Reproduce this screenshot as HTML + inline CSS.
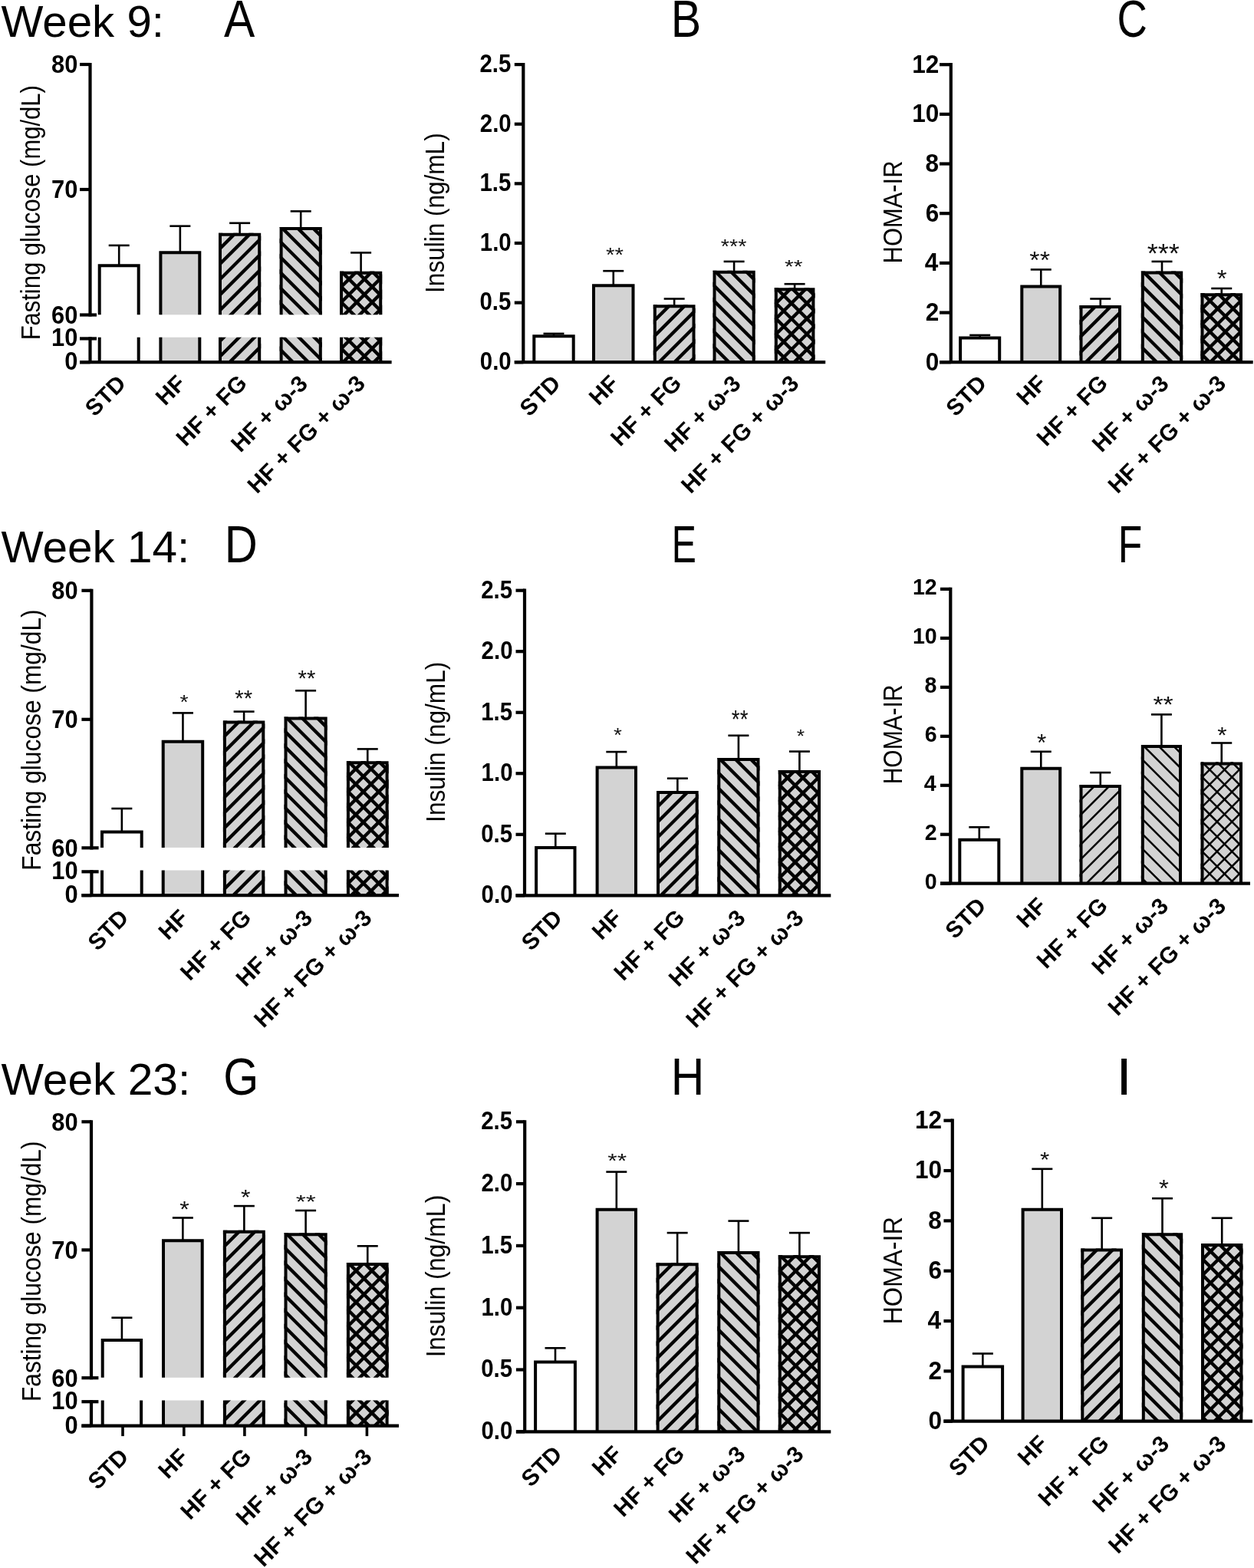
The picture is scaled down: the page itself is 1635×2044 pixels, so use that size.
<!DOCTYPE html>
<html><head><meta charset="utf-8"><title>Figure</title>
<style>html,body{margin:0;padding:0;background:#fff;}svg{display:block;}</style>
</head><body><svg width="1635" height="2044" viewBox="0 0 1635 2044" font-family='"Liberation Sans", Arial, sans-serif'><defs><clipPath id="c1"><rect x="285.00" y="303.70" width="55.20" height="106.60"/></clipPath><clipPath id="c2"><rect x="285.00" y="439.70" width="55.20" height="32.50"/></clipPath><clipPath id="c3"><rect x="364.60" y="296.00" width="55.20" height="114.30"/></clipPath><clipPath id="c4"><rect x="364.60" y="439.70" width="55.20" height="32.50"/></clipPath><clipPath id="c5"><rect x="443.00" y="353.80" width="55.20" height="56.50"/></clipPath><clipPath id="c6"><rect x="443.00" y="439.70" width="55.20" height="32.50"/></clipPath><clipPath id="c7"><rect x="851.80" y="397.30" width="54.70" height="74.90"/></clipPath><clipPath id="c8"><rect x="929.50" y="352.70" width="55.20" height="119.50"/></clipPath><clipPath id="c9"><rect x="1009.80" y="375.20" width="52.60" height="97.00"/></clipPath><clipPath id="c10"><rect x="1407.50" y="398.00" width="54.50" height="74.20"/></clipPath><clipPath id="c11"><rect x="1487.80" y="353.40" width="54.40" height="118.80"/></clipPath><clipPath id="c12"><rect x="1565.50" y="382.20" width="54.50" height="90.00"/></clipPath><clipPath id="c13"><rect x="290.90" y="939.60" width="54.40" height="165.30"/></clipPath><clipPath id="c14"><rect x="290.90" y="1134.50" width="54.40" height="32.70"/></clipPath><clipPath id="c15"><rect x="370.50" y="934.50" width="56.20" height="170.40"/></clipPath><clipPath id="c16"><rect x="370.50" y="1134.50" width="56.20" height="32.70"/></clipPath><clipPath id="c17"><rect x="451.90" y="992.30" width="54.70" height="112.60"/></clipPath><clipPath id="c18"><rect x="451.90" y="1134.50" width="54.70" height="32.70"/></clipPath><clipPath id="c19"><rect x="856.00" y="1031.00" width="54.70" height="136.30"/></clipPath><clipPath id="c20"><rect x="935.30" y="988.10" width="55.20" height="179.20"/></clipPath><clipPath id="c21"><rect x="1014.80" y="1003.90" width="55.20" height="163.40"/></clipPath><clipPath id="c22"><rect x="1407.50" y="1022.90" width="54.50" height="128.80"/></clipPath><clipPath id="c23"><rect x="1487.80" y="971.00" width="53.20" height="180.70"/></clipPath><clipPath id="c24"><rect x="1565.50" y="993.60" width="54.50" height="158.10"/></clipPath><clipPath id="c25"><rect x="290.90" y="1603.70" width="54.90" height="192.10"/></clipPath><clipPath id="c26"><rect x="290.90" y="1825.50" width="54.90" height="33.20"/></clipPath><clipPath id="c27"><rect x="370.50" y="1607.30" width="56.20" height="188.50"/></clipPath><clipPath id="c28"><rect x="370.50" y="1825.50" width="56.20" height="33.20"/></clipPath><clipPath id="c29"><rect x="451.90" y="1646.10" width="54.70" height="149.70"/></clipPath><clipPath id="c30"><rect x="451.90" y="1825.50" width="54.70" height="33.20"/></clipPath><clipPath id="c31"><rect x="855.60" y="1646.20" width="55.10" height="220.10"/></clipPath><clipPath id="c32"><rect x="935.30" y="1630.90" width="55.20" height="235.40"/></clipPath><clipPath id="c33"><rect x="1014.80" y="1636.20" width="55.20" height="230.10"/></clipPath><clipPath id="c34"><rect x="1409.30" y="1627.40" width="54.70" height="225.30"/></clipPath><clipPath id="c35"><rect x="1488.80" y="1607.30" width="53.40" height="245.40"/></clipPath><clipPath id="c36"><rect x="1566.00" y="1620.90" width="54.40" height="231.80"/></clipPath></defs><rect width="1635" height="2044" fill="#fff"/><line x1="155.20" y1="319.90" x2="155.20" y2="345.30" stroke="#000" stroke-width="2.6" stroke-linecap="butt"/><line x1="141.70" y1="319.90" x2="168.70" y2="319.90" stroke="#000" stroke-width="2.6" stroke-linecap="butt"/><line x1="234.85" y1="294.70" x2="234.85" y2="328.30" stroke="#000" stroke-width="2.6" stroke-linecap="butt"/><line x1="221.35" y1="294.70" x2="248.35" y2="294.70" stroke="#000" stroke-width="2.6" stroke-linecap="butt"/><line x1="312.60" y1="290.80" x2="312.60" y2="304.70" stroke="#000" stroke-width="2.6" stroke-linecap="butt"/><line x1="299.10" y1="290.80" x2="326.10" y2="290.80" stroke="#000" stroke-width="2.6" stroke-linecap="butt"/><line x1="392.20" y1="275.40" x2="392.20" y2="297.00" stroke="#000" stroke-width="2.6" stroke-linecap="butt"/><line x1="378.70" y1="275.40" x2="405.70" y2="275.40" stroke="#000" stroke-width="2.6" stroke-linecap="butt"/><line x1="470.60" y1="329.40" x2="470.60" y2="354.80" stroke="#000" stroke-width="2.6" stroke-linecap="butt"/><line x1="457.10" y1="329.40" x2="484.10" y2="329.40" stroke="#000" stroke-width="2.6" stroke-linecap="butt"/><rect x="129.70" y="346.30" width="51.00" height="64.00" fill="#fff"/><path d="M129.70,410.30V346.30H180.70V410.30" fill="none" stroke="#000" stroke-width="4.0" stroke-linejoin="miter"/><rect x="129.70" y="439.70" width="51.00" height="32.50" fill="#fff"/><line x1="129.70" y1="439.70" x2="129.70" y2="472.20" stroke="#000" stroke-width="4.0" stroke-linecap="butt"/><line x1="180.70" y1="439.70" x2="180.70" y2="472.20" stroke="#000" stroke-width="4.0" stroke-linecap="butt"/><rect x="209.40" y="329.30" width="50.90" height="81.00" fill="#d3d3d3"/><path d="M209.40,410.30V329.30H260.30V410.30" fill="none" stroke="#000" stroke-width="4.0" stroke-linejoin="miter"/><rect x="209.40" y="439.70" width="50.90" height="32.50" fill="#d3d3d3"/><line x1="209.40" y1="439.70" x2="209.40" y2="472.20" stroke="#000" stroke-width="4.0" stroke-linecap="butt"/><line x1="260.30" y1="439.70" x2="260.30" y2="472.20" stroke="#000" stroke-width="4.0" stroke-linecap="butt"/><rect x="287.00" y="305.70" width="51.20" height="104.60" fill="#d3d3d3"/><g clip-path="url(#c1)"><path d="M130.21,420.30L256.81,293.70M150.31,420.30L276.91,293.70M170.41,420.30L297.01,293.70M190.51,420.30L317.11,293.70M210.61,420.30L337.21,293.70M230.71,420.30L357.31,293.70M250.81,420.30L377.41,293.70M270.91,420.30L397.51,293.70M291.01,420.30L417.61,293.70M311.11,420.30L437.71,293.70M331.21,420.30L457.81,293.70M351.31,420.30L477.91,293.70" stroke="#000" stroke-width="4.4" fill="none"/></g><path d="M287.00,410.30V305.70H338.20V410.30" fill="none" stroke="#000" stroke-width="4.0" stroke-linejoin="miter"/><rect x="287.00" y="439.70" width="51.20" height="32.50" fill="#d3d3d3"/><g clip-path="url(#c2)"><path d="M209.01,482.20L261.51,429.70M229.11,482.20L281.61,429.70M249.21,482.20L301.71,429.70M269.31,482.20L321.81,429.70M289.41,482.20L341.91,429.70M309.51,482.20L362.01,429.70M329.61,482.20L382.11,429.70M349.71,482.20L402.21,429.70M369.81,482.20L422.31,429.70" stroke="#000" stroke-width="4.4" fill="none"/></g><line x1="287.00" y1="439.70" x2="287.00" y2="472.20" stroke="#000" stroke-width="4.0" stroke-linecap="butt"/><line x1="338.20" y1="439.70" x2="338.20" y2="472.20" stroke="#000" stroke-width="4.0" stroke-linecap="butt"/><rect x="366.60" y="298.00" width="51.20" height="112.30" fill="#d3d3d3"/><g clip-path="url(#c3)"><path d="M215.91,286.00L350.21,420.30M236.01,286.00L370.31,420.30M256.11,286.00L390.41,420.30M276.21,286.00L410.51,420.30M296.31,286.00L430.61,420.30M316.41,286.00L450.71,420.30M336.51,286.00L470.81,420.30M356.61,286.00L490.91,420.30M376.71,286.00L511.01,420.30M396.81,286.00L531.11,420.30M416.91,286.00L551.21,420.30M437.01,286.00L571.31,420.30" stroke="#000" stroke-width="4.4" fill="none"/></g><path d="M366.60,410.30V298.00H417.80V410.30" fill="none" stroke="#000" stroke-width="4.0" stroke-linejoin="miter"/><rect x="366.60" y="439.70" width="51.20" height="32.50" fill="#d3d3d3"/><g clip-path="url(#c4)"><path d="M299.31,429.70L351.81,482.20M319.41,429.70L371.91,482.20M339.51,429.70L392.01,482.20M359.61,429.70L412.11,482.20M379.71,429.70L432.21,482.20M399.81,429.70L452.31,482.20M419.91,429.70L472.41,482.20M440.01,429.70L492.51,482.20" stroke="#000" stroke-width="4.4" fill="none"/></g><line x1="366.60" y1="439.70" x2="366.60" y2="472.20" stroke="#000" stroke-width="4.0" stroke-linecap="butt"/><line x1="417.80" y1="439.70" x2="417.80" y2="472.20" stroke="#000" stroke-width="4.0" stroke-linecap="butt"/><rect x="445.00" y="355.80" width="51.20" height="54.50" fill="#d3d3d3"/><g clip-path="url(#c5)"><path d="M338.31,420.30L414.81,343.80M358.41,420.30L434.91,343.80M378.51,420.30L455.01,343.80M398.61,420.30L475.11,343.80M418.71,420.30L495.21,343.80M438.81,420.30L515.31,343.80M458.91,420.30L535.41,343.80M479.01,420.30L555.51,343.80M499.11,420.30L575.61,343.80M519.21,420.30L595.71,343.80" stroke="#000" stroke-width="4.4" fill="none"/><path d="M354.61,343.80L431.11,420.30M374.71,343.80L451.21,420.30M394.81,343.80L471.31,420.30M414.91,343.80L491.41,420.30M435.01,343.80L511.51,420.30M455.11,343.80L531.61,420.30M475.21,343.80L551.71,420.30M495.31,343.80L571.81,420.30M515.41,343.80L591.91,420.30" stroke="#000" stroke-width="4.4" fill="none"/></g><path d="M445.00,410.30V355.80H496.20V410.30" fill="none" stroke="#000" stroke-width="4.0" stroke-linejoin="miter"/><rect x="445.00" y="439.70" width="51.20" height="32.50" fill="#d3d3d3"/><g clip-path="url(#c6)"><path d="M376.91,482.20L429.41,429.70M397.01,482.20L449.51,429.70M417.11,482.20L469.61,429.70M437.21,482.20L489.71,429.70M457.31,482.20L509.81,429.70M477.41,482.20L529.91,429.70M497.51,482.20L550.01,429.70M517.61,482.20L570.11,429.70" stroke="#000" stroke-width="4.4" fill="none"/><path d="M380.21,429.70L432.71,482.20M400.31,429.70L452.81,482.20M420.41,429.70L472.91,482.20M440.51,429.70L493.01,482.20M460.61,429.70L513.11,482.20M480.71,429.70L533.21,482.20M500.81,429.70L553.31,482.20M520.91,429.70L573.41,482.20" stroke="#000" stroke-width="4.4" fill="none"/></g><line x1="445.00" y1="439.70" x2="445.00" y2="472.20" stroke="#000" stroke-width="4.0" stroke-linecap="butt"/><line x1="496.20" y1="439.70" x2="496.20" y2="472.20" stroke="#000" stroke-width="4.0" stroke-linecap="butt"/><line x1="117.50" y1="81.90" x2="117.50" y2="412.60" stroke="#000" stroke-width="4.2" stroke-linecap="butt"/><line x1="117.50" y1="439.30" x2="117.50" y2="472.20" stroke="#000" stroke-width="4.2" stroke-linecap="butt"/><line x1="104.00" y1="472.20" x2="510.60" y2="472.20" stroke="#000" stroke-width="4.2" stroke-linecap="butt"/><line x1="104.00" y1="84.00" x2="117.50" y2="84.00" stroke="#000" stroke-width="4.2" stroke-linecap="butt"/><line x1="104.00" y1="247.00" x2="117.50" y2="247.00" stroke="#000" stroke-width="4.2" stroke-linecap="butt"/><line x1="104.00" y1="410.50" x2="126.00" y2="410.50" stroke="#000" stroke-width="4.2" stroke-linecap="butt"/><line x1="104.00" y1="441.40" x2="126.00" y2="441.40" stroke="#000" stroke-width="4.2" stroke-linecap="butt"/><line x1="104.00" y1="472.20" x2="117.50" y2="472.20" stroke="#000" stroke-width="4.2" stroke-linecap="butt"/><text x="67.12" y="95.30" font-size="33.2" font-weight="bold" textLength="34.34" lengthAdjust="spacingAndGlyphs">80</text><text x="67.12" y="258.30" font-size="33.2" font-weight="bold" textLength="34.34" lengthAdjust="spacingAndGlyphs">70</text><text x="67.12" y="421.80" font-size="33.2" font-weight="bold" textLength="34.34" lengthAdjust="spacingAndGlyphs">60</text><text x="67.12" y="451.10" font-size="33.2" font-weight="bold" textLength="34.34" lengthAdjust="spacingAndGlyphs">10</text><text x="84.29" y="482.00" font-size="33.2" font-weight="bold" textLength="17.17" lengthAdjust="spacingAndGlyphs">0</text><g transform="translate(51.70,440.80) rotate(-90)"><text x="-2.54" y="0" font-size="34.3" font-weight="normal" textLength="332.06" lengthAdjust="spacingAndGlyphs">Fasting glucose (mg/dL)</text></g><g transform="translate(164.80,502.60) rotate(-45)"><text x="-58.74" y="0" font-size="30" font-weight="bold" textLength="60.00" lengthAdjust="spacingAndGlyphs">STD</text></g><g transform="translate(242.85,502.60) rotate(-45)"><text x="-38.89" y="0" font-size="30" font-weight="bold" textLength="39.99" lengthAdjust="spacingAndGlyphs">HF</text></g><g transform="translate(322.50,502.60) rotate(-45)"><text x="-113.98" y="0" font-size="30" font-weight="bold" textLength="115.84" lengthAdjust="spacingAndGlyphs">HF + FG</text></g><g transform="translate(402.00,502.60) rotate(-45)"><text x="-125.11" y="0" font-size="30" font-weight="bold" textLength="126.20" lengthAdjust="spacingAndGlyphs">HF + ω-3</text></g><g transform="translate(477.00,502.60) rotate(-45)"><text x="-200.96" y="0" font-size="30" font-weight="bold" textLength="202.05" lengthAdjust="spacingAndGlyphs">HF + FG + ω-3</text></g><line x1="722.00" y1="434.90" x2="722.00" y2="437.20" stroke="#000" stroke-width="2.6" stroke-linecap="butt"/><line x1="708.50" y1="434.90" x2="735.50" y2="434.90" stroke="#000" stroke-width="2.6" stroke-linecap="butt"/><line x1="799.75" y1="353.20" x2="799.75" y2="371.20" stroke="#000" stroke-width="2.6" stroke-linecap="butt"/><line x1="786.25" y1="353.20" x2="813.25" y2="353.20" stroke="#000" stroke-width="2.6" stroke-linecap="butt"/><line x1="879.15" y1="389.50" x2="879.15" y2="398.30" stroke="#000" stroke-width="2.6" stroke-linecap="butt"/><line x1="865.65" y1="389.50" x2="892.65" y2="389.50" stroke="#000" stroke-width="2.6" stroke-linecap="butt"/><line x1="957.10" y1="340.90" x2="957.10" y2="353.70" stroke="#000" stroke-width="2.6" stroke-linecap="butt"/><line x1="943.60" y1="340.90" x2="970.60" y2="340.90" stroke="#000" stroke-width="2.6" stroke-linecap="butt"/><line x1="1036.10" y1="370.20" x2="1036.10" y2="376.20" stroke="#000" stroke-width="2.6" stroke-linecap="butt"/><line x1="1022.60" y1="370.20" x2="1049.60" y2="370.20" stroke="#000" stroke-width="2.6" stroke-linecap="butt"/><rect x="696.30" y="438.20" width="51.40" height="34.00" fill="#fff"/><path d="M696.30,472.20V438.20H747.70V472.20" fill="none" stroke="#000" stroke-width="4.0" stroke-linejoin="miter"/><rect x="774.00" y="372.20" width="51.50" height="100.00" fill="#d3d3d3"/><path d="M774.00,472.20V372.20H825.50V472.20" fill="none" stroke="#000" stroke-width="4.0" stroke-linejoin="miter"/><rect x="853.80" y="399.30" width="50.70" height="72.90" fill="#d3d3d3"/><g clip-path="url(#c7)"><path d="M728.71,482.20L823.61,387.30M748.81,482.20L843.71,387.30M768.91,482.20L863.81,387.30M789.01,482.20L883.91,387.30M809.11,482.20L904.01,387.30M829.21,482.20L924.11,387.30M849.31,482.20L944.21,387.30M869.41,482.20L964.31,387.30M889.51,482.20L984.41,387.30M909.61,482.20L1004.51,387.30M929.71,482.20L1024.61,387.30" stroke="#000" stroke-width="4.4" fill="none"/></g><path d="M853.80,472.20V399.30H904.50V472.20" fill="none" stroke="#000" stroke-width="4.0" stroke-linejoin="miter"/><rect x="931.50" y="354.70" width="51.20" height="117.50" fill="#d3d3d3"/><g clip-path="url(#c8)"><path d="M760.71,342.70L900.21,482.20M780.81,342.70L920.31,482.20M800.91,342.70L940.41,482.20M821.01,342.70L960.51,482.20M841.11,342.70L980.61,482.20M861.21,342.70L1000.71,482.20M881.31,342.70L1020.81,482.20M901.41,342.70L1040.91,482.20M921.51,342.70L1061.01,482.20M941.61,342.70L1081.11,482.20M961.71,342.70L1101.21,482.20M981.81,342.70L1121.31,482.20M1001.91,342.70L1141.41,482.20" stroke="#000" stroke-width="4.4" fill="none"/></g><path d="M931.50,472.20V354.70H982.70V472.20" fill="none" stroke="#000" stroke-width="4.0" stroke-linejoin="miter"/><rect x="1011.80" y="377.20" width="48.60" height="95.00" fill="#d3d3d3"/><g clip-path="url(#c9)"><path d="M864.61,482.20L981.61,365.20M884.71,482.20L1001.71,365.20M904.81,482.20L1021.81,365.20M924.91,482.20L1041.91,365.20M945.01,482.20L1062.01,365.20M965.11,482.20L1082.11,365.20M985.21,482.20L1102.21,365.20M1005.31,482.20L1122.31,365.20M1025.41,482.20L1142.41,365.20M1045.51,482.20L1162.51,365.20M1065.61,482.20L1182.61,365.20M1085.71,482.20L1202.71,365.20" stroke="#000" stroke-width="4.4" fill="none"/><path d="M881.21,365.20L998.21,482.20M901.31,365.20L1018.31,482.20M921.41,365.20L1038.41,482.20M941.51,365.20L1058.51,482.20M961.61,365.20L1078.61,482.20M981.71,365.20L1098.71,482.20M1001.81,365.20L1118.81,482.20M1021.91,365.20L1138.91,482.20M1042.01,365.20L1159.01,482.20M1062.11,365.20L1179.11,482.20M1082.21,365.20L1199.21,482.20" stroke="#000" stroke-width="4.4" fill="none"/></g><path d="M1011.80,472.20V377.20H1060.40V472.20" fill="none" stroke="#000" stroke-width="4.0" stroke-linejoin="miter"/><line x1="682.30" y1="82.00" x2="682.30" y2="472.20" stroke="#000" stroke-width="4.2" stroke-linecap="butt"/><line x1="670.80" y1="472.20" x2="1076.20" y2="472.20" stroke="#000" stroke-width="4.2" stroke-linecap="butt"/><line x1="670.80" y1="84.10" x2="682.30" y2="84.10" stroke="#000" stroke-width="4.2" stroke-linecap="butt"/><line x1="670.80" y1="161.72" x2="682.30" y2="161.72" stroke="#000" stroke-width="4.2" stroke-linecap="butt"/><line x1="670.80" y1="239.34" x2="682.30" y2="239.34" stroke="#000" stroke-width="4.2" stroke-linecap="butt"/><line x1="670.80" y1="316.96" x2="682.30" y2="316.96" stroke="#000" stroke-width="4.2" stroke-linecap="butt"/><line x1="670.80" y1="394.58" x2="682.30" y2="394.58" stroke="#000" stroke-width="4.2" stroke-linecap="butt"/><line x1="670.80" y1="472.20" x2="682.30" y2="472.20" stroke="#000" stroke-width="4.2" stroke-linecap="butt"/><text x="625.43" y="93.90" font-size="33.2" font-weight="bold" textLength="40.89" lengthAdjust="spacingAndGlyphs">2.5</text><text x="625.82" y="171.52" font-size="33.2" font-weight="bold" textLength="40.89" lengthAdjust="spacingAndGlyphs">2.0</text><text x="625.43" y="249.14" font-size="33.2" font-weight="bold" textLength="40.89" lengthAdjust="spacingAndGlyphs">1.5</text><text x="625.82" y="326.76" font-size="33.2" font-weight="bold" textLength="40.89" lengthAdjust="spacingAndGlyphs">1.0</text><text x="625.43" y="404.38" font-size="33.2" font-weight="bold" textLength="40.89" lengthAdjust="spacingAndGlyphs">0.5</text><text x="625.82" y="482.00" font-size="33.2" font-weight="bold" textLength="40.89" lengthAdjust="spacingAndGlyphs">0.0</text><g transform="translate(579.40,379.00) rotate(-90)"><text x="-2.91" y="0" font-size="34.3" font-weight="normal" textLength="208.57" lengthAdjust="spacingAndGlyphs">Insulin (ng/mL)</text></g><text x="789.93" y="341.05" font-size="25.07" font-weight="normal" textLength="22.94" lengthAdjust="spacingAndGlyphs" fill="#111">**</text><text x="939.84" y="329.75" font-size="25.07" font-weight="normal" textLength="33.51" lengthAdjust="spacingAndGlyphs" fill="#111">***</text><text x="1023.11" y="356.26" font-size="24.21" font-weight="normal" textLength="23.46" lengthAdjust="spacingAndGlyphs" fill="#111">**</text><g transform="translate(731.60,502.60) rotate(-45)"><text x="-58.74" y="0" font-size="30" font-weight="bold" textLength="60.00" lengthAdjust="spacingAndGlyphs">STD</text></g><g transform="translate(807.75,502.60) rotate(-45)"><text x="-38.89" y="0" font-size="30" font-weight="bold" textLength="39.99" lengthAdjust="spacingAndGlyphs">HF</text></g><g transform="translate(889.05,502.60) rotate(-45)"><text x="-113.98" y="0" font-size="30" font-weight="bold" textLength="115.84" lengthAdjust="spacingAndGlyphs">HF + FG</text></g><g transform="translate(966.90,502.60) rotate(-45)"><text x="-125.11" y="0" font-size="30" font-weight="bold" textLength="126.20" lengthAdjust="spacingAndGlyphs">HF + ω-3</text></g><g transform="translate(1042.50,502.60) rotate(-45)"><text x="-200.96" y="0" font-size="30" font-weight="bold" textLength="202.05" lengthAdjust="spacingAndGlyphs">HF + FG + ω-3</text></g><line x1="1277.65" y1="436.90" x2="1277.65" y2="439.40" stroke="#000" stroke-width="2.6" stroke-linecap="butt"/><line x1="1264.15" y1="436.90" x2="1291.15" y2="436.90" stroke="#000" stroke-width="2.6" stroke-linecap="butt"/><line x1="1357.25" y1="351.40" x2="1357.25" y2="372.50" stroke="#000" stroke-width="2.6" stroke-linecap="butt"/><line x1="1343.75" y1="351.40" x2="1370.75" y2="351.40" stroke="#000" stroke-width="2.6" stroke-linecap="butt"/><line x1="1434.75" y1="389.50" x2="1434.75" y2="399.00" stroke="#000" stroke-width="2.6" stroke-linecap="butt"/><line x1="1421.25" y1="389.50" x2="1448.25" y2="389.50" stroke="#000" stroke-width="2.6" stroke-linecap="butt"/><line x1="1515.00" y1="340.90" x2="1515.00" y2="354.40" stroke="#000" stroke-width="2.6" stroke-linecap="butt"/><line x1="1501.50" y1="340.90" x2="1528.50" y2="340.90" stroke="#000" stroke-width="2.6" stroke-linecap="butt"/><line x1="1592.75" y1="376.00" x2="1592.75" y2="383.20" stroke="#000" stroke-width="2.6" stroke-linecap="butt"/><line x1="1579.25" y1="376.00" x2="1606.25" y2="376.00" stroke="#000" stroke-width="2.6" stroke-linecap="butt"/><rect x="1252.10" y="440.40" width="51.10" height="31.80" fill="#fff"/><path d="M1252.10,472.20V440.40H1303.20V472.20" fill="none" stroke="#000" stroke-width="4.0" stroke-linejoin="miter"/><rect x="1332.30" y="373.50" width="49.90" height="98.70" fill="#d3d3d3"/><path d="M1332.30,472.20V373.50H1382.20V472.20" fill="none" stroke="#000" stroke-width="4.0" stroke-linejoin="miter"/><rect x="1409.50" y="400.00" width="50.50" height="72.20" fill="#d3d3d3"/><g clip-path="url(#c10)"><path d="M1285.11,482.20L1379.31,388.00M1305.21,482.20L1399.41,388.00M1325.31,482.20L1419.51,388.00M1345.41,482.20L1439.61,388.00M1365.51,482.20L1459.71,388.00M1385.61,482.20L1479.81,388.00M1405.71,482.20L1499.91,388.00M1425.81,482.20L1520.01,388.00M1445.91,482.20L1540.11,388.00M1466.01,482.20L1560.21,388.00M1486.11,482.20L1580.31,388.00" stroke="#000" stroke-width="4.4" fill="none"/></g><path d="M1409.50,472.20V400.00H1460.00V472.20" fill="none" stroke="#000" stroke-width="4.0" stroke-linejoin="miter"/><rect x="1489.80" y="355.40" width="50.40" height="116.80" fill="#d3d3d3"/><g clip-path="url(#c11)"><path d="M1319.01,343.40L1457.81,482.20M1339.11,343.40L1477.91,482.20M1359.21,343.40L1498.01,482.20M1379.31,343.40L1518.11,482.20M1399.41,343.40L1538.21,482.20M1419.51,343.40L1558.31,482.20M1439.61,343.40L1578.41,482.20M1459.71,343.40L1598.51,482.20M1479.81,343.40L1618.61,482.20M1499.91,343.40L1638.71,482.20M1520.01,343.40L1658.81,482.20M1540.11,343.40L1678.91,482.20M1560.21,343.40L1699.01,482.20" stroke="#000" stroke-width="4.4" fill="none"/></g><path d="M1489.80,472.20V355.40H1540.20V472.20" fill="none" stroke="#000" stroke-width="4.0" stroke-linejoin="miter"/><rect x="1567.50" y="384.20" width="50.50" height="88.00" fill="#d3d3d3"/><g clip-path="url(#c12)"><path d="M1427.31,482.20L1537.31,372.20M1447.41,482.20L1557.41,372.20M1467.51,482.20L1577.51,372.20M1487.61,482.20L1597.61,372.20M1507.71,482.20L1617.71,372.20M1527.81,482.20L1637.81,372.20M1547.91,482.20L1657.91,372.20M1568.01,482.20L1678.01,372.20M1588.11,482.20L1698.11,372.20M1608.21,482.20L1718.21,372.20M1628.31,482.20L1738.31,372.20M1648.41,482.20L1758.41,372.20" stroke="#000" stroke-width="4.4" fill="none"/><path d="M1436.91,372.20L1546.91,482.20M1457.01,372.20L1567.01,482.20M1477.11,372.20L1587.11,482.20M1497.21,372.20L1607.21,482.20M1517.31,372.20L1627.31,482.20M1537.41,372.20L1647.41,482.20M1557.51,372.20L1667.51,482.20M1577.61,372.20L1687.61,482.20M1597.71,372.20L1707.71,482.20M1617.81,372.20L1727.81,482.20M1637.91,372.20L1747.91,482.20" stroke="#000" stroke-width="4.4" fill="none"/></g><path d="M1567.50,472.20V384.20H1618.00V472.20" fill="none" stroke="#000" stroke-width="4.0" stroke-linejoin="miter"/><line x1="1239.80" y1="82.10" x2="1239.80" y2="472.20" stroke="#000" stroke-width="4.2" stroke-linecap="butt"/><line x1="1225.00" y1="472.20" x2="1633.70" y2="472.20" stroke="#000" stroke-width="4.2" stroke-linecap="butt"/><line x1="1225.00" y1="84.20" x2="1239.80" y2="84.20" stroke="#000" stroke-width="4.2" stroke-linecap="butt"/><line x1="1225.00" y1="148.87" x2="1239.80" y2="148.87" stroke="#000" stroke-width="4.2" stroke-linecap="butt"/><line x1="1225.00" y1="213.53" x2="1239.80" y2="213.53" stroke="#000" stroke-width="4.2" stroke-linecap="butt"/><line x1="1225.00" y1="278.20" x2="1239.80" y2="278.20" stroke="#000" stroke-width="4.2" stroke-linecap="butt"/><line x1="1225.00" y1="342.87" x2="1239.80" y2="342.87" stroke="#000" stroke-width="4.2" stroke-linecap="butt"/><line x1="1225.00" y1="407.53" x2="1239.80" y2="407.53" stroke="#000" stroke-width="4.2" stroke-linecap="butt"/><line x1="1225.00" y1="472.20" x2="1239.80" y2="472.20" stroke="#000" stroke-width="4.2" stroke-linecap="butt"/><text x="1189.28" y="94.60" font-size="33.2" font-weight="bold" textLength="35.08" lengthAdjust="spacingAndGlyphs">12</text><text x="1189.31" y="159.27" font-size="33.2" font-weight="bold" textLength="35.08" lengthAdjust="spacingAndGlyphs">10</text><text x="1206.53" y="223.93" font-size="33.2" font-weight="bold" textLength="17.54" lengthAdjust="spacingAndGlyphs">8</text><text x="1206.70" y="288.60" font-size="33.2" font-weight="bold" textLength="17.54" lengthAdjust="spacingAndGlyphs">6</text><text x="1205.73" y="353.27" font-size="33.2" font-weight="bold" textLength="17.54" lengthAdjust="spacingAndGlyphs">4</text><text x="1206.82" y="417.93" font-size="33.2" font-weight="bold" textLength="17.54" lengthAdjust="spacingAndGlyphs">2</text><text x="1206.85" y="482.60" font-size="33.2" font-weight="bold" textLength="17.54" lengthAdjust="spacingAndGlyphs">0</text><g transform="translate(1175.60,340.90) rotate(-90)"><text x="-2.53" y="0" font-size="34.3" font-weight="normal" textLength="133.87" lengthAdjust="spacingAndGlyphs">HOMA-IR</text></g><text x="1342.35" y="349.96" font-size="30.76" font-weight="normal" textLength="26.58" lengthAdjust="spacingAndGlyphs" fill="#111">**</text><text x="1495.72" y="341.52" font-size="34.18" font-weight="normal" textLength="42.04" lengthAdjust="spacingAndGlyphs" fill="#111">***</text><text x="1586.77" y="373.54" font-size="32.19" font-weight="normal" textLength="12.85" lengthAdjust="spacingAndGlyphs" fill="#111">*</text><g transform="translate(1287.25,502.60) rotate(-45)"><text x="-58.74" y="0" font-size="30" font-weight="bold" textLength="60.00" lengthAdjust="spacingAndGlyphs">STD</text></g><g transform="translate(1365.25,502.60) rotate(-45)"><text x="-38.89" y="0" font-size="30" font-weight="bold" textLength="39.99" lengthAdjust="spacingAndGlyphs">HF</text></g><g transform="translate(1444.65,502.60) rotate(-45)"><text x="-113.98" y="0" font-size="30" font-weight="bold" textLength="115.84" lengthAdjust="spacingAndGlyphs">HF + FG</text></g><g transform="translate(1524.80,502.60) rotate(-45)"><text x="-125.11" y="0" font-size="30" font-weight="bold" textLength="126.20" lengthAdjust="spacingAndGlyphs">HF + ω-3</text></g><g transform="translate(1599.15,502.60) rotate(-45)"><text x="-200.96" y="0" font-size="30" font-weight="bold" textLength="202.05" lengthAdjust="spacingAndGlyphs">HF + FG + ω-3</text></g><line x1="158.85" y1="1054.00" x2="158.85" y2="1083.50" stroke="#000" stroke-width="2.6" stroke-linecap="butt"/><line x1="145.35" y1="1054.00" x2="172.35" y2="1054.00" stroke="#000" stroke-width="2.6" stroke-linecap="butt"/><line x1="238.45" y1="929.40" x2="238.45" y2="965.80" stroke="#000" stroke-width="2.6" stroke-linecap="butt"/><line x1="224.95" y1="929.40" x2="251.95" y2="929.40" stroke="#000" stroke-width="2.6" stroke-linecap="butt"/><line x1="318.10" y1="927.60" x2="318.10" y2="940.60" stroke="#000" stroke-width="2.6" stroke-linecap="butt"/><line x1="304.60" y1="927.60" x2="331.60" y2="927.60" stroke="#000" stroke-width="2.6" stroke-linecap="butt"/><line x1="398.60" y1="900.30" x2="398.60" y2="935.50" stroke="#000" stroke-width="2.6" stroke-linecap="butt"/><line x1="385.10" y1="900.30" x2="412.10" y2="900.30" stroke="#000" stroke-width="2.6" stroke-linecap="butt"/><line x1="479.25" y1="976.40" x2="479.25" y2="993.30" stroke="#000" stroke-width="2.6" stroke-linecap="butt"/><line x1="465.75" y1="976.40" x2="492.75" y2="976.40" stroke="#000" stroke-width="2.6" stroke-linecap="butt"/><rect x="133.00" y="1084.50" width="51.70" height="20.40" fill="#fff"/><path d="M133.00,1104.90V1084.50H184.70V1104.90" fill="none" stroke="#000" stroke-width="4.0" stroke-linejoin="miter"/><rect x="133.00" y="1134.50" width="51.70" height="32.70" fill="#fff"/><line x1="133.00" y1="1134.50" x2="133.00" y2="1167.20" stroke="#000" stroke-width="4.0" stroke-linecap="butt"/><line x1="184.70" y1="1134.50" x2="184.70" y2="1167.20" stroke="#000" stroke-width="4.0" stroke-linecap="butt"/><rect x="212.70" y="966.80" width="51.50" height="138.10" fill="#d3d3d3"/><path d="M212.70,1104.90V966.80H264.20V1104.90" fill="none" stroke="#000" stroke-width="4.0" stroke-linejoin="miter"/><rect x="212.70" y="1134.50" width="51.50" height="32.70" fill="#d3d3d3"/><line x1="212.70" y1="1134.50" x2="212.70" y2="1167.20" stroke="#000" stroke-width="4.0" stroke-linecap="butt"/><line x1="264.20" y1="1134.50" x2="264.20" y2="1167.20" stroke="#000" stroke-width="4.0" stroke-linecap="butt"/><rect x="292.90" y="941.60" width="50.40" height="163.30" fill="#d3d3d3"/><g clip-path="url(#c13)"><path d="M77.79,1114.90L263.09,929.60M97.69,1114.90L282.99,929.60M117.59,1114.90L302.89,929.60M137.49,1114.90L322.79,929.60M157.39,1114.90L342.69,929.60M177.29,1114.90L362.59,929.60M197.19,1114.90L382.49,929.60M217.09,1114.90L402.39,929.60M236.99,1114.90L422.29,929.60M256.89,1114.90L442.19,929.60M276.79,1114.90L462.09,929.60M296.69,1114.90L481.99,929.60M316.59,1114.90L501.89,929.60M336.49,1114.90L521.79,929.60M356.39,1114.90L541.69,929.60" stroke="#000" stroke-width="4.4" fill="none"/></g><path d="M292.90,1104.90V941.60H343.30V1104.90" fill="none" stroke="#000" stroke-width="4.0" stroke-linejoin="miter"/><rect x="292.90" y="1134.50" width="50.40" height="32.70" fill="#d3d3d3"/><g clip-path="url(#c14)"><path d="M214.49,1177.20L267.19,1124.50M234.39,1177.20L287.09,1124.50M254.29,1177.20L306.99,1124.50M274.19,1177.20L326.89,1124.50M294.09,1177.20L346.79,1124.50M313.99,1177.20L366.69,1124.50M333.89,1177.20L386.59,1124.50M353.79,1177.20L406.49,1124.50M373.69,1177.20L426.39,1124.50" stroke="#000" stroke-width="4.4" fill="none"/></g><line x1="292.90" y1="1134.50" x2="292.90" y2="1167.20" stroke="#000" stroke-width="4.0" stroke-linecap="butt"/><line x1="343.30" y1="1134.50" x2="343.30" y2="1167.20" stroke="#000" stroke-width="4.0" stroke-linecap="butt"/><rect x="372.50" y="936.50" width="52.20" height="168.40" fill="#d3d3d3"/><g clip-path="url(#c15)"><path d="M163.49,924.50L353.89,1114.90M183.39,924.50L373.79,1114.90M203.29,924.50L393.69,1114.90M223.19,924.50L413.59,1114.90M243.09,924.50L433.49,1114.90M262.99,924.50L453.39,1114.90M282.89,924.50L473.29,1114.90M302.79,924.50L493.19,1114.90M322.69,924.50L513.09,1114.90M342.59,924.50L532.99,1114.90M362.49,924.50L552.89,1114.90M382.39,924.50L572.79,1114.90M402.29,924.50L592.69,1114.90M422.19,924.50L612.59,1114.90M442.09,924.50L632.49,1114.90" stroke="#000" stroke-width="4.4" fill="none"/></g><path d="M372.50,1104.90V936.50H424.70V1104.90" fill="none" stroke="#000" stroke-width="4.0" stroke-linejoin="miter"/><rect x="372.50" y="1134.50" width="52.20" height="32.70" fill="#d3d3d3"/><g clip-path="url(#c16)"><path d="M303.79,1124.50L356.49,1177.20M323.69,1124.50L376.39,1177.20M343.59,1124.50L396.29,1177.20M363.49,1124.50L416.19,1177.20M383.39,1124.50L436.09,1177.20M403.29,1124.50L455.99,1177.20M423.19,1124.50L475.89,1177.20M443.09,1124.50L495.79,1177.20" stroke="#000" stroke-width="4.4" fill="none"/></g><line x1="372.50" y1="1134.50" x2="372.50" y2="1167.20" stroke="#000" stroke-width="4.0" stroke-linecap="butt"/><line x1="424.70" y1="1134.50" x2="424.70" y2="1167.20" stroke="#000" stroke-width="4.0" stroke-linecap="butt"/><rect x="453.90" y="994.30" width="50.70" height="110.60" fill="#d3d3d3"/><g clip-path="url(#c17)"><path d="M291.49,1114.90L424.09,982.30M311.39,1114.90L443.99,982.30M331.29,1114.90L463.89,982.30M351.19,1114.90L483.79,982.30M371.09,1114.90L503.69,982.30M390.99,1114.90L523.59,982.30M410.89,1114.90L543.49,982.30M430.79,1114.90L563.39,982.30M450.69,1114.90L583.29,982.30M470.59,1114.90L603.19,982.30M490.49,1114.90L623.09,982.30M510.39,1114.90L642.99,982.30M530.29,1114.90L662.89,982.30" stroke="#000" stroke-width="4.4" fill="none"/><path d="M304.59,982.30L437.19,1114.90M324.49,982.30L457.09,1114.90M344.39,982.30L476.99,1114.90M364.29,982.30L496.89,1114.90M384.19,982.30L516.79,1114.90M404.09,982.30L536.69,1114.90M423.99,982.30L556.59,1114.90M443.89,982.30L576.49,1114.90M463.79,982.30L596.39,1114.90M483.69,982.30L616.29,1114.90M503.59,982.30L636.19,1114.90M523.49,982.30L656.09,1114.90" stroke="#000" stroke-width="4.4" fill="none"/></g><path d="M453.90,1104.90V994.30H504.60V1104.90" fill="none" stroke="#000" stroke-width="4.0" stroke-linejoin="miter"/><rect x="453.90" y="1134.50" width="50.70" height="32.70" fill="#d3d3d3"/><g clip-path="url(#c18)"><path d="M388.39,1177.20L441.09,1124.50M408.29,1177.20L460.99,1124.50M428.19,1177.20L480.89,1124.50M448.09,1177.20L500.79,1124.50M467.99,1177.20L520.69,1124.50M487.89,1177.20L540.59,1124.50M507.79,1177.20L560.49,1124.50M527.69,1177.20L580.39,1124.50" stroke="#000" stroke-width="4.4" fill="none"/><path d="M387.09,1124.50L439.79,1177.20M406.99,1124.50L459.69,1177.20M426.89,1124.50L479.59,1177.20M446.79,1124.50L499.49,1177.20M466.69,1124.50L519.39,1177.20M486.59,1124.50L539.29,1177.20M506.49,1124.50L559.19,1177.20M526.39,1124.50L579.09,1177.20" stroke="#000" stroke-width="4.4" fill="none"/></g><line x1="453.90" y1="1134.50" x2="453.90" y2="1167.20" stroke="#000" stroke-width="4.0" stroke-linecap="butt"/><line x1="504.60" y1="1134.50" x2="504.60" y2="1167.20" stroke="#000" stroke-width="4.0" stroke-linecap="butt"/><line x1="119.40" y1="767.70" x2="119.40" y2="1107.40" stroke="#000" stroke-width="4.2" stroke-linecap="butt"/><line x1="119.40" y1="1134.20" x2="119.40" y2="1167.20" stroke="#000" stroke-width="4.2" stroke-linecap="butt"/><line x1="106.40" y1="1167.20" x2="520.00" y2="1167.20" stroke="#000" stroke-width="4.2" stroke-linecap="butt"/><line x1="106.40" y1="769.80" x2="119.40" y2="769.80" stroke="#000" stroke-width="4.2" stroke-linecap="butt"/><line x1="106.40" y1="937.80" x2="119.40" y2="937.80" stroke="#000" stroke-width="4.2" stroke-linecap="butt"/><line x1="106.40" y1="1105.30" x2="128.60" y2="1105.30" stroke="#000" stroke-width="4.2" stroke-linecap="butt"/><line x1="106.40" y1="1136.30" x2="128.60" y2="1136.30" stroke="#000" stroke-width="4.2" stroke-linecap="butt"/><line x1="106.40" y1="1167.20" x2="119.40" y2="1167.20" stroke="#000" stroke-width="4.2" stroke-linecap="butt"/><text x="67.32" y="781.10" font-size="33.2" font-weight="bold" textLength="34.34" lengthAdjust="spacingAndGlyphs">80</text><text x="67.32" y="949.10" font-size="33.2" font-weight="bold" textLength="34.34" lengthAdjust="spacingAndGlyphs">70</text><text x="67.32" y="1116.60" font-size="33.2" font-weight="bold" textLength="34.34" lengthAdjust="spacingAndGlyphs">60</text><text x="67.32" y="1146.00" font-size="33.2" font-weight="bold" textLength="34.34" lengthAdjust="spacingAndGlyphs">10</text><text x="84.49" y="1177.00" font-size="33.2" font-weight="bold" textLength="17.17" lengthAdjust="spacingAndGlyphs">0</text><g transform="translate(52.60,1132.10) rotate(-90)"><text x="-2.60" y="0" font-size="34.3" font-weight="normal" textLength="340.37" lengthAdjust="spacingAndGlyphs">Fasting glucose (mg/dL)</text></g><text x="234.44" y="923.84" font-size="25.64" font-weight="normal" textLength="11.11" lengthAdjust="spacingAndGlyphs" fill="#111">*</text><text x="306.33" y="919.98" font-size="29.34" font-weight="normal" textLength="22.73" lengthAdjust="spacingAndGlyphs" fill="#111">**</text><text x="388.53" y="894.28" font-size="29.34" font-weight="normal" textLength="22.73" lengthAdjust="spacingAndGlyphs" fill="#111">**</text><g transform="translate(168.45,1199.20) rotate(-45)"><text x="-58.74" y="0" font-size="30" font-weight="bold" textLength="60.00" lengthAdjust="spacingAndGlyphs">STD</text></g><g transform="translate(246.45,1199.20) rotate(-45)"><text x="-38.89" y="0" font-size="30" font-weight="bold" textLength="39.99" lengthAdjust="spacingAndGlyphs">HF</text></g><g transform="translate(328.00,1199.20) rotate(-45)"><text x="-113.98" y="0" font-size="30" font-weight="bold" textLength="115.84" lengthAdjust="spacingAndGlyphs">HF + FG</text></g><g transform="translate(408.40,1199.20) rotate(-45)"><text x="-125.11" y="0" font-size="30" font-weight="bold" textLength="126.20" lengthAdjust="spacingAndGlyphs">HF + ω-3</text></g><g transform="translate(485.65,1199.20) rotate(-45)"><text x="-200.96" y="0" font-size="30" font-weight="bold" textLength="202.05" lengthAdjust="spacingAndGlyphs">HF + FG + ω-3</text></g><line x1="724.30" y1="1086.70" x2="724.30" y2="1104.00" stroke="#000" stroke-width="2.6" stroke-linecap="butt"/><line x1="710.80" y1="1086.70" x2="737.80" y2="1086.70" stroke="#000" stroke-width="2.6" stroke-linecap="butt"/><line x1="803.80" y1="980.10" x2="803.80" y2="999.40" stroke="#000" stroke-width="2.6" stroke-linecap="butt"/><line x1="790.30" y1="980.10" x2="817.30" y2="980.10" stroke="#000" stroke-width="2.6" stroke-linecap="butt"/><line x1="883.35" y1="1014.70" x2="883.35" y2="1032.00" stroke="#000" stroke-width="2.6" stroke-linecap="butt"/><line x1="869.85" y1="1014.70" x2="896.85" y2="1014.70" stroke="#000" stroke-width="2.6" stroke-linecap="butt"/><line x1="962.90" y1="958.80" x2="962.90" y2="989.10" stroke="#000" stroke-width="2.6" stroke-linecap="butt"/><line x1="949.40" y1="958.80" x2="976.40" y2="958.80" stroke="#000" stroke-width="2.6" stroke-linecap="butt"/><line x1="1042.40" y1="979.60" x2="1042.40" y2="1004.90" stroke="#000" stroke-width="2.6" stroke-linecap="butt"/><line x1="1028.90" y1="979.60" x2="1055.90" y2="979.60" stroke="#000" stroke-width="2.6" stroke-linecap="butt"/><rect x="699.10" y="1105.00" width="50.40" height="62.30" fill="#fff"/><path d="M699.10,1167.30V1105.00H749.50V1167.30" fill="none" stroke="#000" stroke-width="4.0" stroke-linejoin="miter"/><rect x="778.60" y="1000.40" width="50.40" height="166.90" fill="#d3d3d3"/><path d="M778.60,1167.30V1000.40H829.00V1167.30" fill="none" stroke="#000" stroke-width="4.0" stroke-linejoin="miter"/><rect x="858.00" y="1033.00" width="50.70" height="134.30" fill="#d3d3d3"/><g clip-path="url(#c19)"><path d="M671.70,1177.30L828.00,1021.00M691.70,1177.30L848.00,1021.00M711.70,1177.30L868.00,1021.00M731.70,1177.30L888.00,1021.00M751.70,1177.30L908.00,1021.00M771.70,1177.30L928.00,1021.00M791.70,1177.30L948.00,1021.00M811.70,1177.30L968.00,1021.00M831.70,1177.30L988.00,1021.00M851.70,1177.30L1008.00,1021.00M871.70,1177.30L1028.00,1021.00M891.70,1177.30L1048.00,1021.00M911.70,1177.30L1068.00,1021.00M931.70,1177.30L1088.00,1021.00" stroke="#000" stroke-width="4.4" fill="none"/></g><path d="M858.00,1167.30V1033.00H908.70V1167.30" fill="none" stroke="#000" stroke-width="4.0" stroke-linejoin="miter"/><rect x="937.30" y="990.10" width="51.20" height="177.20" fill="#d3d3d3"/><g clip-path="url(#c20)"><path d="M707.30,978.10L906.50,1177.30M727.30,978.10L926.50,1177.30M747.30,978.10L946.50,1177.30M767.30,978.10L966.50,1177.30M787.30,978.10L986.50,1177.30M807.30,978.10L1006.50,1177.30M827.30,978.10L1026.50,1177.30M847.30,978.10L1046.50,1177.30M867.30,978.10L1066.50,1177.30M887.30,978.10L1086.50,1177.30M907.30,978.10L1106.50,1177.30M927.30,978.10L1126.50,1177.30M947.30,978.10L1146.50,1177.30M967.30,978.10L1166.50,1177.30M987.30,978.10L1186.50,1177.30M1007.30,978.10L1206.50,1177.30" stroke="#000" stroke-width="4.4" fill="none"/></g><path d="M937.30,1167.30V990.10H988.50V1167.30" fill="none" stroke="#000" stroke-width="4.0" stroke-linejoin="miter"/><rect x="1016.80" y="1005.90" width="51.20" height="161.40" fill="#d3d3d3"/><g clip-path="url(#c21)"><path d="M803.40,1177.30L986.80,993.90M823.40,1177.30L1006.80,993.90M843.40,1177.30L1026.80,993.90M863.40,1177.30L1046.80,993.90M883.40,1177.30L1066.80,993.90M903.40,1177.30L1086.80,993.90M923.40,1177.30L1106.80,993.90M943.40,1177.30L1126.80,993.90M963.40,1177.30L1146.80,993.90M983.40,1177.30L1166.80,993.90M1003.40,1177.30L1186.80,993.90M1023.40,1177.30L1206.80,993.90M1043.40,1177.30L1226.80,993.90M1063.40,1177.30L1246.80,993.90M1083.40,1177.30L1266.80,993.90" stroke="#000" stroke-width="4.4" fill="none"/><path d="M806.80,993.90L990.20,1177.30M826.80,993.90L1010.20,1177.30M846.80,993.90L1030.20,1177.30M866.80,993.90L1050.20,1177.30M886.80,993.90L1070.20,1177.30M906.80,993.90L1090.20,1177.30M926.80,993.90L1110.20,1177.30M946.80,993.90L1130.20,1177.30M966.80,993.90L1150.20,1177.30M986.80,993.90L1170.20,1177.30M1006.80,993.90L1190.20,1177.30M1026.80,993.90L1210.20,1177.30M1046.80,993.90L1230.20,1177.30M1066.80,993.90L1250.20,1177.30M1086.80,993.90L1270.20,1177.30" stroke="#000" stroke-width="4.4" fill="none"/></g><path d="M1016.80,1167.30V1005.90H1068.00V1167.30" fill="none" stroke="#000" stroke-width="4.0" stroke-linejoin="miter"/><line x1="684.00" y1="767.60" x2="684.00" y2="1167.30" stroke="#000" stroke-width="4.2" stroke-linecap="butt"/><line x1="672.50" y1="1167.30" x2="1083.30" y2="1167.30" stroke="#000" stroke-width="4.2" stroke-linecap="butt"/><line x1="672.50" y1="769.70" x2="684.00" y2="769.70" stroke="#000" stroke-width="4.2" stroke-linecap="butt"/><line x1="672.50" y1="849.22" x2="684.00" y2="849.22" stroke="#000" stroke-width="4.2" stroke-linecap="butt"/><line x1="672.50" y1="928.74" x2="684.00" y2="928.74" stroke="#000" stroke-width="4.2" stroke-linecap="butt"/><line x1="672.50" y1="1008.26" x2="684.00" y2="1008.26" stroke="#000" stroke-width="4.2" stroke-linecap="butt"/><line x1="672.50" y1="1087.78" x2="684.00" y2="1087.78" stroke="#000" stroke-width="4.2" stroke-linecap="butt"/><line x1="672.50" y1="1167.30" x2="684.00" y2="1167.30" stroke="#000" stroke-width="4.2" stroke-linecap="butt"/><text x="627.23" y="779.50" font-size="33.2" font-weight="bold" textLength="40.89" lengthAdjust="spacingAndGlyphs">2.5</text><text x="627.62" y="859.02" font-size="33.2" font-weight="bold" textLength="40.89" lengthAdjust="spacingAndGlyphs">2.0</text><text x="627.23" y="938.54" font-size="33.2" font-weight="bold" textLength="40.89" lengthAdjust="spacingAndGlyphs">1.5</text><text x="627.62" y="1018.06" font-size="33.2" font-weight="bold" textLength="40.89" lengthAdjust="spacingAndGlyphs">1.0</text><text x="627.23" y="1097.58" font-size="33.2" font-weight="bold" textLength="40.89" lengthAdjust="spacingAndGlyphs">0.5</text><text x="627.62" y="1177.10" font-size="33.2" font-weight="bold" textLength="40.89" lengthAdjust="spacingAndGlyphs">0.0</text><g transform="translate(579.60,1069.00) rotate(-90)"><text x="-2.92" y="0" font-size="34.3" font-weight="normal" textLength="209.18" lengthAdjust="spacingAndGlyphs">Insulin (ng/mL)</text></g><text x="799.95" y="966.83" font-size="26.21" font-weight="normal" textLength="10.89" lengthAdjust="spacingAndGlyphs" fill="#111">*</text><text x="953.85" y="949.43" font-size="33.04" font-weight="normal" textLength="21.58" lengthAdjust="spacingAndGlyphs" fill="#111">**</text><text x="1038.67" y="968.35" font-size="24.78" font-weight="normal" textLength="10.34" lengthAdjust="spacingAndGlyphs" fill="#111">*</text><g transform="translate(733.90,1199.30) rotate(-45)"><text x="-58.74" y="0" font-size="30" font-weight="bold" textLength="60.00" lengthAdjust="spacingAndGlyphs">STD</text></g><g transform="translate(811.80,1199.30) rotate(-45)"><text x="-38.89" y="0" font-size="30" font-weight="bold" textLength="39.99" lengthAdjust="spacingAndGlyphs">HF</text></g><g transform="translate(893.25,1199.30) rotate(-45)"><text x="-113.98" y="0" font-size="30" font-weight="bold" textLength="115.84" lengthAdjust="spacingAndGlyphs">HF + FG</text></g><g transform="translate(972.70,1199.30) rotate(-45)"><text x="-125.11" y="0" font-size="30" font-weight="bold" textLength="126.20" lengthAdjust="spacingAndGlyphs">HF + ω-3</text></g><g transform="translate(1048.80,1199.30) rotate(-45)"><text x="-200.96" y="0" font-size="30" font-weight="bold" textLength="202.05" lengthAdjust="spacingAndGlyphs">HF + FG + ω-3</text></g><line x1="1276.80" y1="1078.30" x2="1276.80" y2="1093.70" stroke="#000" stroke-width="2.6" stroke-linecap="butt"/><line x1="1263.30" y1="1078.30" x2="1290.30" y2="1078.30" stroke="#000" stroke-width="2.6" stroke-linecap="butt"/><line x1="1357.25" y1="979.80" x2="1357.25" y2="1000.80" stroke="#000" stroke-width="2.6" stroke-linecap="butt"/><line x1="1343.75" y1="979.80" x2="1370.75" y2="979.80" stroke="#000" stroke-width="2.6" stroke-linecap="butt"/><line x1="1434.75" y1="1007.10" x2="1434.75" y2="1023.90" stroke="#000" stroke-width="2.6" stroke-linecap="butt"/><line x1="1421.25" y1="1007.10" x2="1448.25" y2="1007.10" stroke="#000" stroke-width="2.6" stroke-linecap="butt"/><line x1="1514.40" y1="931.40" x2="1514.40" y2="972.00" stroke="#000" stroke-width="2.6" stroke-linecap="butt"/><line x1="1500.90" y1="931.40" x2="1527.90" y2="931.40" stroke="#000" stroke-width="2.6" stroke-linecap="butt"/><line x1="1592.75" y1="968.50" x2="1592.75" y2="994.60" stroke="#000" stroke-width="2.6" stroke-linecap="butt"/><line x1="1579.25" y1="968.50" x2="1606.25" y2="968.50" stroke="#000" stroke-width="2.6" stroke-linecap="butt"/><rect x="1251.30" y="1094.70" width="51.00" height="57.00" fill="#fff"/><path d="M1251.30,1151.70V1094.70H1302.30V1151.70" fill="none" stroke="#000" stroke-width="4.0" stroke-linejoin="miter"/><rect x="1332.30" y="1001.80" width="49.90" height="149.90" fill="#d3d3d3"/><path d="M1332.30,1151.70V1001.80H1382.20V1151.70" fill="none" stroke="#000" stroke-width="4.0" stroke-linejoin="miter"/><rect x="1409.50" y="1024.90" width="50.50" height="126.80" fill="#d3d3d3"/><g clip-path="url(#c22)"><path d="M1231.84,1161.70L1380.64,1012.90M1251.24,1161.70L1400.04,1012.90M1270.64,1161.70L1419.44,1012.90M1290.04,1161.70L1438.84,1012.90M1309.44,1161.70L1458.24,1012.90M1328.84,1161.70L1477.64,1012.90M1348.24,1161.70L1497.04,1012.90M1367.64,1161.70L1516.44,1012.90M1387.04,1161.70L1535.84,1012.90M1406.44,1161.70L1555.24,1012.90M1425.84,1161.70L1574.64,1012.90M1445.24,1161.70L1594.04,1012.90M1464.64,1161.70L1613.44,1012.90M1484.04,1161.70L1632.84,1012.90" stroke="#000" stroke-width="2.5" fill="none"/></g><path d="M1409.50,1151.70V1024.90H1460.00V1151.70" fill="none" stroke="#000" stroke-width="4.0" stroke-linejoin="miter"/><rect x="1489.80" y="973.00" width="49.20" height="178.70" fill="#d3d3d3"/><g clip-path="url(#c23)"><path d="M1266.34,961.00L1467.04,1161.70M1285.74,961.00L1486.44,1161.70M1305.14,961.00L1505.84,1161.70M1324.54,961.00L1525.24,1161.70M1343.94,961.00L1544.64,1161.70M1363.34,961.00L1564.04,1161.70M1382.74,961.00L1583.44,1161.70M1402.14,961.00L1602.84,1161.70M1421.54,961.00L1622.24,1161.70M1440.94,961.00L1641.64,1161.70M1460.34,961.00L1661.04,1161.70M1479.74,961.00L1680.44,1161.70M1499.14,961.00L1699.84,1161.70M1518.54,961.00L1719.24,1161.70M1537.94,961.00L1738.64,1161.70M1557.34,961.00L1758.04,1161.70" stroke="#000" stroke-width="2.5" fill="none"/></g><path d="M1489.80,1151.70V973.00H1539.00V1151.70" fill="none" stroke="#000" stroke-width="4.0" stroke-linejoin="miter"/><rect x="1567.50" y="995.60" width="50.50" height="156.10" fill="#d3d3d3"/><g clip-path="url(#c24)"><path d="M1360.54,1161.70L1538.64,983.60M1379.94,1161.70L1558.04,983.60M1399.34,1161.70L1577.44,983.60M1418.74,1161.70L1596.84,983.60M1438.14,1161.70L1616.24,983.60M1457.54,1161.70L1635.64,983.60M1476.94,1161.70L1655.04,983.60M1496.34,1161.70L1674.44,983.60M1515.74,1161.70L1693.84,983.60M1535.14,1161.70L1713.24,983.60M1554.54,1161.70L1732.64,983.60M1573.94,1161.70L1752.04,983.60M1593.34,1161.70L1771.44,983.60M1612.74,1161.70L1790.84,983.60M1632.14,1161.70L1810.24,983.60" stroke="#000" stroke-width="2.5" fill="none"/><path d="M1363.44,983.60L1541.54,1161.70M1382.84,983.60L1560.94,1161.70M1402.24,983.60L1580.34,1161.70M1421.64,983.60L1599.74,1161.70M1441.04,983.60L1619.14,1161.70M1460.44,983.60L1638.54,1161.70M1479.84,983.60L1657.94,1161.70M1499.24,983.60L1677.34,1161.70M1518.64,983.60L1696.74,1161.70M1538.04,983.60L1716.14,1161.70M1557.44,983.60L1735.54,1161.70M1576.84,983.60L1754.94,1161.70M1596.24,983.60L1774.34,1161.70M1615.64,983.60L1793.74,1161.70M1635.04,983.60L1813.14,1161.70" stroke="#000" stroke-width="2.5" fill="none"/></g><path d="M1567.50,1151.70V995.60H1618.00V1151.70" fill="none" stroke="#000" stroke-width="4.0" stroke-linejoin="miter"/><line x1="1239.30" y1="765.80" x2="1239.30" y2="1151.70" stroke="#000" stroke-width="4.2" stroke-linecap="butt"/><line x1="1226.00" y1="1151.70" x2="1630.00" y2="1151.70" stroke="#000" stroke-width="4.2" stroke-linecap="butt"/><line x1="1226.00" y1="767.90" x2="1239.30" y2="767.90" stroke="#000" stroke-width="4.2" stroke-linecap="butt"/><line x1="1226.00" y1="831.87" x2="1239.30" y2="831.87" stroke="#000" stroke-width="4.2" stroke-linecap="butt"/><line x1="1226.00" y1="895.83" x2="1239.30" y2="895.83" stroke="#000" stroke-width="4.2" stroke-linecap="butt"/><line x1="1226.00" y1="959.80" x2="1239.30" y2="959.80" stroke="#000" stroke-width="4.2" stroke-linecap="butt"/><line x1="1226.00" y1="1023.77" x2="1239.30" y2="1023.77" stroke="#000" stroke-width="4.2" stroke-linecap="butt"/><line x1="1226.00" y1="1087.73" x2="1239.30" y2="1087.73" stroke="#000" stroke-width="4.2" stroke-linecap="butt"/><line x1="1226.00" y1="1151.70" x2="1239.30" y2="1151.70" stroke="#000" stroke-width="4.2" stroke-linecap="butt"/><text x="1189.94" y="775.40" font-size="30.1" font-weight="bold" textLength="31.81" lengthAdjust="spacingAndGlyphs">12</text><text x="1189.97" y="839.37" font-size="30.1" font-weight="bold" textLength="31.81" lengthAdjust="spacingAndGlyphs">10</text><text x="1205.58" y="903.33" font-size="30.1" font-weight="bold" textLength="15.90" lengthAdjust="spacingAndGlyphs">8</text><text x="1205.73" y="967.30" font-size="30.1" font-weight="bold" textLength="15.90" lengthAdjust="spacingAndGlyphs">6</text><text x="1204.85" y="1031.27" font-size="30.1" font-weight="bold" textLength="15.90" lengthAdjust="spacingAndGlyphs">4</text><text x="1205.84" y="1095.23" font-size="30.1" font-weight="bold" textLength="15.90" lengthAdjust="spacingAndGlyphs">2</text><text x="1205.87" y="1159.20" font-size="30.1" font-weight="bold" textLength="15.90" lengthAdjust="spacingAndGlyphs">0</text><g transform="translate(1175.60,1019.80) rotate(-90)"><text x="-2.46" y="0" font-size="34.3" font-weight="normal" textLength="129.75" lengthAdjust="spacingAndGlyphs">HOMA-IR</text></g><text x="1351.89" y="978.54" font-size="32.19" font-weight="normal" textLength="12.30" lengthAdjust="spacingAndGlyphs" fill="#111">*</text><text x="1503.46" y="927.77" font-size="30.19" font-weight="normal" textLength="26.27" lengthAdjust="spacingAndGlyphs" fill="#111">**</text><text x="1587.29" y="968.28" font-size="29.91" font-weight="normal" textLength="12.30" lengthAdjust="spacingAndGlyphs" fill="#111">*</text><g transform="translate(1286.40,1183.70) rotate(-45)"><text x="-58.74" y="0" font-size="30" font-weight="bold" textLength="60.00" lengthAdjust="spacingAndGlyphs">STD</text></g><g transform="translate(1365.25,1183.70) rotate(-45)"><text x="-38.89" y="0" font-size="30" font-weight="bold" textLength="39.99" lengthAdjust="spacingAndGlyphs">HF</text></g><g transform="translate(1444.65,1183.70) rotate(-45)"><text x="-113.98" y="0" font-size="30" font-weight="bold" textLength="115.84" lengthAdjust="spacingAndGlyphs">HF + FG</text></g><g transform="translate(1524.20,1183.70) rotate(-45)"><text x="-125.11" y="0" font-size="30" font-weight="bold" textLength="126.20" lengthAdjust="spacingAndGlyphs">HF + ω-3</text></g><g transform="translate(1599.15,1183.70) rotate(-45)"><text x="-200.96" y="0" font-size="30" font-weight="bold" textLength="202.05" lengthAdjust="spacingAndGlyphs">HF + FG + ω-3</text></g><line x1="158.90" y1="1717.70" x2="158.90" y2="1746.00" stroke="#000" stroke-width="2.6" stroke-linecap="butt"/><line x1="145.40" y1="1717.70" x2="172.40" y2="1717.70" stroke="#000" stroke-width="2.6" stroke-linecap="butt"/><line x1="238.35" y1="1587.50" x2="238.35" y2="1616.30" stroke="#000" stroke-width="2.6" stroke-linecap="butt"/><line x1="224.85" y1="1587.50" x2="251.85" y2="1587.50" stroke="#000" stroke-width="2.6" stroke-linecap="butt"/><line x1="318.35" y1="1572.10" x2="318.35" y2="1604.70" stroke="#000" stroke-width="2.6" stroke-linecap="butt"/><line x1="304.85" y1="1572.10" x2="331.85" y2="1572.10" stroke="#000" stroke-width="2.6" stroke-linecap="butt"/><line x1="398.60" y1="1578.00" x2="398.60" y2="1608.30" stroke="#000" stroke-width="2.6" stroke-linecap="butt"/><line x1="385.10" y1="1578.00" x2="412.10" y2="1578.00" stroke="#000" stroke-width="2.6" stroke-linecap="butt"/><line x1="479.25" y1="1624.30" x2="479.25" y2="1647.10" stroke="#000" stroke-width="2.6" stroke-linecap="butt"/><line x1="465.75" y1="1624.30" x2="492.75" y2="1624.30" stroke="#000" stroke-width="2.6" stroke-linecap="butt"/><rect x="133.70" y="1747.00" width="50.40" height="48.80" fill="#fff"/><path d="M133.70,1795.80V1747.00H184.10V1795.80" fill="none" stroke="#000" stroke-width="4.0" stroke-linejoin="miter"/><rect x="133.70" y="1825.50" width="50.40" height="33.20" fill="#fff"/><line x1="133.70" y1="1825.50" x2="133.70" y2="1858.70" stroke="#000" stroke-width="4.0" stroke-linecap="butt"/><line x1="184.10" y1="1825.50" x2="184.10" y2="1858.70" stroke="#000" stroke-width="4.0" stroke-linecap="butt"/><rect x="213.00" y="1617.30" width="50.70" height="178.50" fill="#d3d3d3"/><path d="M213.00,1795.80V1617.30H263.70V1795.80" fill="none" stroke="#000" stroke-width="4.0" stroke-linejoin="miter"/><rect x="213.00" y="1825.50" width="50.70" height="33.20" fill="#d3d3d3"/><line x1="213.00" y1="1825.50" x2="213.00" y2="1858.70" stroke="#000" stroke-width="4.0" stroke-linecap="butt"/><line x1="263.70" y1="1825.50" x2="263.70" y2="1858.70" stroke="#000" stroke-width="4.0" stroke-linecap="butt"/><rect x="292.90" y="1605.70" width="50.90" height="190.10" fill="#d3d3d3"/><g clip-path="url(#c25)"><path d="M49.66,1805.80L261.76,1593.70M70.26,1805.80L282.36,1593.70M90.86,1805.80L302.96,1593.70M111.46,1805.80L323.56,1593.70M132.06,1805.80L344.16,1593.70M152.66,1805.80L364.76,1593.70M173.26,1805.80L385.36,1593.70M193.86,1805.80L405.96,1593.70M214.46,1805.80L426.56,1593.70M235.06,1805.80L447.16,1593.70M255.66,1805.80L467.76,1593.70M276.26,1805.80L488.36,1593.70M296.86,1805.80L508.96,1593.70M317.46,1805.80L529.56,1593.70M338.06,1805.80L550.16,1593.70M358.66,1805.80L570.76,1593.70" stroke="#000" stroke-width="4.4" fill="none"/></g><path d="M292.90,1795.80V1605.70H343.80V1795.80" fill="none" stroke="#000" stroke-width="4.0" stroke-linejoin="miter"/><rect x="292.90" y="1825.50" width="50.90" height="33.20" fill="#d3d3d3"/><g clip-path="url(#c26)"><path d="M213.36,1868.70L266.56,1815.50M233.96,1868.70L287.16,1815.50M254.56,1868.70L307.76,1815.50M275.16,1868.70L328.36,1815.50M295.76,1868.70L348.96,1815.50M316.36,1868.70L369.56,1815.50M336.96,1868.70L390.16,1815.50M357.56,1868.70L410.76,1815.50" stroke="#000" stroke-width="4.4" fill="none"/></g><line x1="292.90" y1="1825.50" x2="292.90" y2="1858.70" stroke="#000" stroke-width="4.0" stroke-linecap="butt"/><line x1="343.80" y1="1825.50" x2="343.80" y2="1858.70" stroke="#000" stroke-width="4.0" stroke-linecap="butt"/><rect x="372.50" y="1609.30" width="52.20" height="186.50" fill="#d3d3d3"/><g clip-path="url(#c27)"><path d="M135.96,1597.30L344.46,1805.80M156.56,1597.30L365.06,1805.80M177.16,1597.30L385.66,1805.80M197.76,1597.30L406.26,1805.80M218.36,1597.30L426.86,1805.80M238.96,1597.30L447.46,1805.80M259.56,1597.30L468.06,1805.80M280.16,1597.30L488.66,1805.80M300.76,1597.30L509.26,1805.80M321.36,1597.30L529.86,1805.80M341.96,1597.30L550.46,1805.80M362.56,1597.30L571.06,1805.80M383.16,1597.30L591.66,1805.80M403.76,1597.30L612.26,1805.80M424.36,1597.30L632.86,1805.80M444.96,1597.30L653.46,1805.80" stroke="#000" stroke-width="4.4" fill="none"/></g><path d="M372.50,1795.80V1609.30H424.70V1795.80" fill="none" stroke="#000" stroke-width="4.0" stroke-linejoin="miter"/><rect x="372.50" y="1825.50" width="52.20" height="33.20" fill="#d3d3d3"/><g clip-path="url(#c28)"><path d="M292.36,1815.50L345.56,1868.70M312.96,1815.50L366.16,1868.70M333.56,1815.50L386.76,1868.70M354.16,1815.50L407.36,1868.70M374.76,1815.50L427.96,1868.70M395.36,1815.50L448.56,1868.70M415.96,1815.50L469.16,1868.70M436.56,1815.50L489.76,1868.70M457.16,1815.50L510.36,1868.70" stroke="#000" stroke-width="4.4" fill="none"/></g><line x1="372.50" y1="1825.50" x2="372.50" y2="1858.70" stroke="#000" stroke-width="4.0" stroke-linecap="butt"/><line x1="424.70" y1="1825.50" x2="424.70" y2="1858.70" stroke="#000" stroke-width="4.0" stroke-linecap="butt"/><rect x="453.90" y="1648.10" width="50.70" height="147.70" fill="#d3d3d3"/><g clip-path="url(#c29)"><path d="M253.06,1805.80L422.76,1636.10M273.66,1805.80L443.36,1636.10M294.26,1805.80L463.96,1636.10M314.86,1805.80L484.56,1636.10M335.46,1805.80L505.16,1636.10M356.06,1805.80L525.76,1636.10M376.66,1805.80L546.36,1636.10M397.26,1805.80L566.96,1636.10M417.86,1805.80L587.56,1636.10M438.46,1805.80L608.16,1636.10M459.06,1805.80L628.76,1636.10M479.66,1805.80L649.36,1636.10M500.26,1805.80L669.96,1636.10M520.86,1805.80L690.56,1636.10" stroke="#000" stroke-width="4.4" fill="none"/><path d="M258.56,1636.10L428.26,1805.80M279.16,1636.10L448.86,1805.80M299.76,1636.10L469.46,1805.80M320.36,1636.10L490.06,1805.80M340.96,1636.10L510.66,1805.80M361.56,1636.10L531.26,1805.80M382.16,1636.10L551.86,1805.80M402.76,1636.10L572.46,1805.80M423.36,1636.10L593.06,1805.80M443.96,1636.10L613.66,1805.80M464.56,1636.10L634.26,1805.80M485.16,1636.10L654.86,1805.80M505.76,1636.10L675.46,1805.80M526.36,1636.10L696.06,1805.80" stroke="#000" stroke-width="4.4" fill="none"/></g><path d="M453.90,1795.80V1648.10H504.60V1795.80" fill="none" stroke="#000" stroke-width="4.0" stroke-linejoin="miter"/><rect x="453.90" y="1825.50" width="50.70" height="33.20" fill="#d3d3d3"/><g clip-path="url(#c30)"><path d="M375.56,1868.70L428.76,1815.50M396.16,1868.70L449.36,1815.50M416.76,1868.70L469.96,1815.50M437.36,1868.70L490.56,1815.50M457.96,1868.70L511.16,1815.50M478.56,1868.70L531.76,1815.50M499.16,1868.70L552.36,1815.50M519.76,1868.70L572.96,1815.50" stroke="#000" stroke-width="4.4" fill="none"/><path d="M376.16,1815.50L429.36,1868.70M396.76,1815.50L449.96,1868.70M417.36,1815.50L470.56,1868.70M437.96,1815.50L491.16,1868.70M458.56,1815.50L511.76,1868.70M479.16,1815.50L532.36,1868.70M499.76,1815.50L552.96,1868.70M520.36,1815.50L573.56,1868.70" stroke="#000" stroke-width="4.4" fill="none"/></g><line x1="453.90" y1="1825.50" x2="453.90" y2="1858.70" stroke="#000" stroke-width="4.0" stroke-linecap="butt"/><line x1="504.60" y1="1825.50" x2="504.60" y2="1858.70" stroke="#000" stroke-width="4.0" stroke-linecap="butt"/><line x1="119.00" y1="1460.20" x2="119.00" y2="1798.30" stroke="#000" stroke-width="4.2" stroke-linecap="butt"/><line x1="119.00" y1="1825.10" x2="119.00" y2="1858.70" stroke="#000" stroke-width="4.2" stroke-linecap="butt"/><line x1="106.40" y1="1858.70" x2="520.00" y2="1858.70" stroke="#000" stroke-width="4.2" stroke-linecap="butt"/><line x1="106.40" y1="1462.30" x2="119.00" y2="1462.30" stroke="#000" stroke-width="4.2" stroke-linecap="butt"/><line x1="106.40" y1="1629.40" x2="119.00" y2="1629.40" stroke="#000" stroke-width="4.2" stroke-linecap="butt"/><line x1="106.40" y1="1796.20" x2="128.40" y2="1796.20" stroke="#000" stroke-width="4.2" stroke-linecap="butt"/><line x1="106.40" y1="1827.20" x2="128.40" y2="1827.20" stroke="#000" stroke-width="4.2" stroke-linecap="butt"/><line x1="106.40" y1="1858.70" x2="119.00" y2="1858.70" stroke="#000" stroke-width="4.2" stroke-linecap="butt"/><line x1="160.00" y1="1858.70" x2="160.00" y2="1872.10" stroke="#000" stroke-width="3.6" stroke-linecap="butt"/><line x1="239.80" y1="1858.70" x2="239.80" y2="1872.10" stroke="#000" stroke-width="3.6" stroke-linecap="butt"/><line x1="318.90" y1="1858.70" x2="318.90" y2="1872.10" stroke="#000" stroke-width="3.6" stroke-linecap="butt"/><line x1="398.50" y1="1858.70" x2="398.50" y2="1872.10" stroke="#000" stroke-width="3.6" stroke-linecap="butt"/><line x1="478.40" y1="1858.70" x2="478.40" y2="1872.10" stroke="#000" stroke-width="3.6" stroke-linecap="butt"/><text x="67.32" y="1473.60" font-size="33.2" font-weight="bold" textLength="34.34" lengthAdjust="spacingAndGlyphs">80</text><text x="67.32" y="1640.70" font-size="33.2" font-weight="bold" textLength="34.34" lengthAdjust="spacingAndGlyphs">70</text><text x="67.32" y="1807.50" font-size="33.2" font-weight="bold" textLength="34.34" lengthAdjust="spacingAndGlyphs">60</text><text x="67.32" y="1836.90" font-size="33.2" font-weight="bold" textLength="34.34" lengthAdjust="spacingAndGlyphs">10</text><text x="84.49" y="1868.50" font-size="33.2" font-weight="bold" textLength="17.17" lengthAdjust="spacingAndGlyphs">0</text><g transform="translate(52.60,1824.40) rotate(-90)"><text x="-2.60" y="0" font-size="34.3" font-weight="normal" textLength="339.46" lengthAdjust="spacingAndGlyphs">Fasting glucose (mg/dL)</text></g><text x="234.38" y="1585.88" font-size="29.34" font-weight="normal" textLength="12.52" lengthAdjust="spacingAndGlyphs" fill="#111">*</text><text x="313.98" y="1569.81" font-size="27.63" font-weight="normal" textLength="12.52" lengthAdjust="spacingAndGlyphs" fill="#111">*</text><text x="385.86" y="1574.55" font-size="24.78" font-weight="normal" textLength="25.96" lengthAdjust="spacingAndGlyphs" fill="#111">**</text><g transform="translate(168.50,1901.80) rotate(-45)"><text x="-58.74" y="0" font-size="30" font-weight="bold" textLength="60.00" lengthAdjust="spacingAndGlyphs">STD</text></g><g transform="translate(246.35,1901.80) rotate(-45)"><text x="-38.89" y="0" font-size="30" font-weight="bold" textLength="39.99" lengthAdjust="spacingAndGlyphs">HF</text></g><g transform="translate(328.25,1901.80) rotate(-45)"><text x="-113.98" y="0" font-size="30" font-weight="bold" textLength="115.84" lengthAdjust="spacingAndGlyphs">HF + FG</text></g><g transform="translate(408.40,1901.80) rotate(-45)"><text x="-125.11" y="0" font-size="30" font-weight="bold" textLength="126.20" lengthAdjust="spacingAndGlyphs">HF + ω-3</text></g><g transform="translate(485.65,1901.80) rotate(-45)"><text x="-200.96" y="0" font-size="30" font-weight="bold" textLength="202.05" lengthAdjust="spacingAndGlyphs">HF + FG + ω-3</text></g><line x1="724.00" y1="1757.30" x2="724.00" y2="1774.50" stroke="#000" stroke-width="2.6" stroke-linecap="butt"/><line x1="710.50" y1="1757.30" x2="737.50" y2="1757.30" stroke="#000" stroke-width="2.6" stroke-linecap="butt"/><line x1="803.80" y1="1527.60" x2="803.80" y2="1575.80" stroke="#000" stroke-width="2.6" stroke-linecap="butt"/><line x1="790.30" y1="1527.60" x2="817.30" y2="1527.60" stroke="#000" stroke-width="2.6" stroke-linecap="butt"/><line x1="883.15" y1="1607.10" x2="883.15" y2="1647.20" stroke="#000" stroke-width="2.6" stroke-linecap="butt"/><line x1="869.65" y1="1607.10" x2="896.65" y2="1607.10" stroke="#000" stroke-width="2.6" stroke-linecap="butt"/><line x1="962.90" y1="1591.60" x2="962.90" y2="1631.90" stroke="#000" stroke-width="2.6" stroke-linecap="butt"/><line x1="949.40" y1="1591.60" x2="976.40" y2="1591.60" stroke="#000" stroke-width="2.6" stroke-linecap="butt"/><line x1="1042.40" y1="1607.10" x2="1042.40" y2="1637.20" stroke="#000" stroke-width="2.6" stroke-linecap="butt"/><line x1="1028.90" y1="1607.10" x2="1055.90" y2="1607.10" stroke="#000" stroke-width="2.6" stroke-linecap="butt"/><rect x="698.10" y="1775.50" width="51.80" height="90.80" fill="#fff"/><path d="M698.10,1866.30V1775.50H749.90V1866.30" fill="none" stroke="#000" stroke-width="4.0" stroke-linejoin="miter"/><rect x="778.60" y="1576.80" width="50.40" height="289.50" fill="#d3d3d3"/><path d="M778.60,1866.30V1576.80H829.00V1866.30" fill="none" stroke="#000" stroke-width="4.0" stroke-linejoin="miter"/><rect x="857.60" y="1648.20" width="51.10" height="218.10" fill="#d3d3d3"/><g clip-path="url(#c31)"><path d="M586.36,1876.30L826.46,1636.20M606.96,1876.30L847.06,1636.20M627.56,1876.30L867.66,1636.20M648.16,1876.30L888.26,1636.20M668.76,1876.30L908.86,1636.20M689.36,1876.30L929.46,1636.20M709.96,1876.30L950.06,1636.20M730.56,1876.30L970.66,1636.20M751.16,1876.30L991.26,1636.20M771.76,1876.30L1011.86,1636.20M792.36,1876.30L1032.46,1636.20M812.96,1876.30L1053.06,1636.20M833.56,1876.30L1073.66,1636.20M854.16,1876.30L1094.26,1636.20M874.76,1876.30L1114.86,1636.20M895.36,1876.30L1135.46,1636.20M915.96,1876.30L1156.06,1636.20M936.56,1876.30L1176.66,1636.20" stroke="#000" stroke-width="4.4" fill="none"/></g><path d="M857.60,1866.30V1648.20H908.70V1866.30" fill="none" stroke="#000" stroke-width="4.0" stroke-linejoin="miter"/><rect x="937.30" y="1632.90" width="51.20" height="233.40" fill="#d3d3d3"/><g clip-path="url(#c32)"><path d="M659.56,1620.90L914.96,1876.30M680.16,1620.90L935.56,1876.30M700.76,1620.90L956.16,1876.30M721.36,1620.90L976.76,1876.30M741.96,1620.90L997.36,1876.30M762.56,1620.90L1017.96,1876.30M783.16,1620.90L1038.56,1876.30M803.76,1620.90L1059.16,1876.30M824.36,1620.90L1079.76,1876.30M844.96,1620.90L1100.36,1876.30M865.56,1620.90L1120.96,1876.30M886.16,1620.90L1141.56,1876.30M906.76,1620.90L1162.16,1876.30M927.36,1620.90L1182.76,1876.30M947.96,1620.90L1203.36,1876.30M968.56,1620.90L1223.96,1876.30M989.16,1620.90L1244.56,1876.30M1009.76,1620.90L1265.16,1876.30" stroke="#000" stroke-width="4.4" fill="none"/></g><path d="M937.30,1866.30V1632.90H988.50V1866.30" fill="none" stroke="#000" stroke-width="4.0" stroke-linejoin="miter"/><rect x="1016.80" y="1638.20" width="51.20" height="228.10" fill="#d3d3d3"/><g clip-path="url(#c33)"><path d="M735.56,1876.30L985.66,1626.20M756.16,1876.30L1006.26,1626.20M776.76,1876.30L1026.86,1626.20M797.36,1876.30L1047.46,1626.20M817.96,1876.30L1068.06,1626.20M838.56,1876.30L1088.66,1626.20M859.16,1876.30L1109.26,1626.20M879.76,1876.30L1129.86,1626.20M900.36,1876.30L1150.46,1626.20M920.96,1876.30L1171.06,1626.20M941.56,1876.30L1191.66,1626.20M962.16,1876.30L1212.26,1626.20M982.76,1876.30L1232.86,1626.20M1003.36,1876.30L1253.46,1626.20M1023.96,1876.30L1274.06,1626.20M1044.56,1876.30L1294.66,1626.20M1065.16,1876.30L1315.26,1626.20M1085.76,1876.30L1335.86,1626.20" stroke="#000" stroke-width="4.4" fill="none"/><path d="M739.06,1626.20L989.16,1876.30M759.66,1626.20L1009.76,1876.30M780.26,1626.20L1030.36,1876.30M800.86,1626.20L1050.96,1876.30M821.46,1626.20L1071.56,1876.30M842.06,1626.20L1092.16,1876.30M862.66,1626.20L1112.76,1876.30M883.26,1626.20L1133.36,1876.30M903.86,1626.20L1153.96,1876.30M924.46,1626.20L1174.56,1876.30M945.06,1626.20L1195.16,1876.30M965.66,1626.20L1215.76,1876.30M986.26,1626.20L1236.36,1876.30M1006.86,1626.20L1256.96,1876.30M1027.46,1626.20L1277.56,1876.30M1048.06,1626.20L1298.16,1876.30M1068.66,1626.20L1318.76,1876.30M1089.26,1626.20L1339.36,1876.30" stroke="#000" stroke-width="4.4" fill="none"/></g><path d="M1016.80,1866.30V1638.20H1068.00V1866.30" fill="none" stroke="#000" stroke-width="4.0" stroke-linejoin="miter"/><line x1="684.20" y1="1460.20" x2="684.20" y2="1866.30" stroke="#000" stroke-width="4.2" stroke-linecap="butt"/><line x1="672.90" y1="1866.30" x2="1083.30" y2="1866.30" stroke="#000" stroke-width="4.2" stroke-linecap="butt"/><line x1="672.90" y1="1462.30" x2="684.20" y2="1462.30" stroke="#000" stroke-width="4.2" stroke-linecap="butt"/><line x1="672.90" y1="1543.10" x2="684.20" y2="1543.10" stroke="#000" stroke-width="4.2" stroke-linecap="butt"/><line x1="672.90" y1="1623.90" x2="684.20" y2="1623.90" stroke="#000" stroke-width="4.2" stroke-linecap="butt"/><line x1="672.90" y1="1704.70" x2="684.20" y2="1704.70" stroke="#000" stroke-width="4.2" stroke-linecap="butt"/><line x1="672.90" y1="1785.50" x2="684.20" y2="1785.50" stroke="#000" stroke-width="4.2" stroke-linecap="butt"/><line x1="672.90" y1="1866.30" x2="684.20" y2="1866.30" stroke="#000" stroke-width="4.2" stroke-linecap="butt"/><text x="627.13" y="1472.10" font-size="33.2" font-weight="bold" textLength="40.89" lengthAdjust="spacingAndGlyphs">2.5</text><text x="627.52" y="1552.90" font-size="33.2" font-weight="bold" textLength="40.89" lengthAdjust="spacingAndGlyphs">2.0</text><text x="627.13" y="1633.70" font-size="33.2" font-weight="bold" textLength="40.89" lengthAdjust="spacingAndGlyphs">1.5</text><text x="627.52" y="1714.50" font-size="33.2" font-weight="bold" textLength="40.89" lengthAdjust="spacingAndGlyphs">1.0</text><text x="627.13" y="1795.30" font-size="33.2" font-weight="bold" textLength="40.89" lengthAdjust="spacingAndGlyphs">0.5</text><text x="627.52" y="1876.10" font-size="33.2" font-weight="bold" textLength="40.89" lengthAdjust="spacingAndGlyphs">0.0</text><g transform="translate(579.60,1766.30) rotate(-90)"><text x="-2.95" y="0" font-size="34.3" font-weight="normal" textLength="211.54" lengthAdjust="spacingAndGlyphs">Insulin (ng/mL)</text></g><text x="792.39" y="1522.25" font-size="25.07" font-weight="normal" textLength="24.81" lengthAdjust="spacingAndGlyphs" fill="#111">**</text><g transform="translate(733.60,1898.30) rotate(-45)"><text x="-58.74" y="0" font-size="30" font-weight="bold" textLength="60.00" lengthAdjust="spacingAndGlyphs">STD</text></g><g transform="translate(811.80,1898.30) rotate(-45)"><text x="-38.89" y="0" font-size="30" font-weight="bold" textLength="39.99" lengthAdjust="spacingAndGlyphs">HF</text></g><g transform="translate(893.05,1898.30) rotate(-45)"><text x="-113.98" y="0" font-size="30" font-weight="bold" textLength="115.84" lengthAdjust="spacingAndGlyphs">HF + FG</text></g><g transform="translate(972.70,1898.30) rotate(-45)"><text x="-125.11" y="0" font-size="30" font-weight="bold" textLength="126.20" lengthAdjust="spacingAndGlyphs">HF + ω-3</text></g><g transform="translate(1048.80,1898.30) rotate(-45)"><text x="-200.96" y="0" font-size="30" font-weight="bold" textLength="202.05" lengthAdjust="spacingAndGlyphs">HF + FG + ω-3</text></g><line x1="1281.35" y1="1764.50" x2="1281.35" y2="1780.60" stroke="#000" stroke-width="2.6" stroke-linecap="butt"/><line x1="1267.85" y1="1764.50" x2="1294.85" y2="1764.50" stroke="#000" stroke-width="2.6" stroke-linecap="butt"/><line x1="1358.80" y1="1523.80" x2="1358.80" y2="1575.70" stroke="#000" stroke-width="2.6" stroke-linecap="butt"/><line x1="1345.30" y1="1523.80" x2="1372.30" y2="1523.80" stroke="#000" stroke-width="2.6" stroke-linecap="butt"/><line x1="1436.65" y1="1587.80" x2="1436.65" y2="1628.40" stroke="#000" stroke-width="2.6" stroke-linecap="butt"/><line x1="1423.15" y1="1587.80" x2="1450.15" y2="1587.80" stroke="#000" stroke-width="2.6" stroke-linecap="butt"/><line x1="1515.50" y1="1562.20" x2="1515.50" y2="1608.30" stroke="#000" stroke-width="2.6" stroke-linecap="butt"/><line x1="1502.00" y1="1562.20" x2="1529.00" y2="1562.20" stroke="#000" stroke-width="2.6" stroke-linecap="butt"/><line x1="1593.20" y1="1587.80" x2="1593.20" y2="1621.90" stroke="#000" stroke-width="2.6" stroke-linecap="butt"/><line x1="1579.70" y1="1587.80" x2="1606.70" y2="1587.80" stroke="#000" stroke-width="2.6" stroke-linecap="butt"/><rect x="1255.60" y="1781.60" width="51.50" height="71.10" fill="#fff"/><path d="M1255.60,1852.70V1781.60H1307.10V1852.70" fill="none" stroke="#000" stroke-width="4.0" stroke-linejoin="miter"/><rect x="1333.60" y="1576.70" width="50.40" height="276.00" fill="#d3d3d3"/><path d="M1333.60,1852.70V1576.70H1384.00V1852.70" fill="none" stroke="#000" stroke-width="4.0" stroke-linejoin="miter"/><rect x="1411.30" y="1629.40" width="50.70" height="223.30" fill="#d3d3d3"/><g clip-path="url(#c34)"><path d="M1134.86,1862.70L1380.16,1617.40M1155.46,1862.70L1400.76,1617.40M1176.06,1862.70L1421.36,1617.40M1196.66,1862.70L1441.96,1617.40M1217.26,1862.70L1462.56,1617.40M1237.86,1862.70L1483.16,1617.40M1258.46,1862.70L1503.76,1617.40M1279.06,1862.70L1524.36,1617.40M1299.66,1862.70L1544.96,1617.40M1320.26,1862.70L1565.56,1617.40M1340.86,1862.70L1586.16,1617.40M1361.46,1862.70L1606.76,1617.40M1382.06,1862.70L1627.36,1617.40M1402.66,1862.70L1647.96,1617.40M1423.26,1862.70L1668.56,1617.40M1443.86,1862.70L1689.16,1617.40M1464.46,1862.70L1709.76,1617.40M1485.06,1862.70L1730.36,1617.40" stroke="#000" stroke-width="4.4" fill="none"/></g><path d="M1411.30,1852.70V1629.40H1462.00V1852.70" fill="none" stroke="#000" stroke-width="4.0" stroke-linejoin="miter"/><rect x="1490.80" y="1609.30" width="49.40" height="243.40" fill="#d3d3d3"/><g clip-path="url(#c35)"><path d="M1192.46,1597.30L1457.86,1862.70M1213.06,1597.30L1478.46,1862.70M1233.66,1597.30L1499.06,1862.70M1254.26,1597.30L1519.66,1862.70M1274.86,1597.30L1540.26,1862.70M1295.46,1597.30L1560.86,1862.70M1316.06,1597.30L1581.46,1862.70M1336.66,1597.30L1602.06,1862.70M1357.26,1597.30L1622.66,1862.70M1377.86,1597.30L1643.26,1862.70M1398.46,1597.30L1663.86,1862.70M1419.06,1597.30L1684.46,1862.70M1439.66,1597.30L1705.06,1862.70M1460.26,1597.30L1725.66,1862.70M1480.86,1597.30L1746.26,1862.70M1501.46,1597.30L1766.86,1862.70M1522.06,1597.30L1787.46,1862.70M1542.66,1597.30L1808.06,1862.70M1563.26,1597.30L1828.66,1862.70" stroke="#000" stroke-width="4.4" fill="none"/></g><path d="M1490.80,1852.70V1609.30H1540.20V1852.70" fill="none" stroke="#000" stroke-width="4.0" stroke-linejoin="miter"/><rect x="1568.00" y="1622.90" width="50.40" height="229.80" fill="#d3d3d3"/><g clip-path="url(#c36)"><path d="M1285.06,1862.70L1536.86,1610.90M1305.66,1862.70L1557.46,1610.90M1326.26,1862.70L1578.06,1610.90M1346.86,1862.70L1598.66,1610.90M1367.46,1862.70L1619.26,1610.90M1388.06,1862.70L1639.86,1610.90M1408.66,1862.70L1660.46,1610.90M1429.26,1862.70L1681.06,1610.90M1449.86,1862.70L1701.66,1610.90M1470.46,1862.70L1722.26,1610.90M1491.06,1862.70L1742.86,1610.90M1511.66,1862.70L1763.46,1610.90M1532.26,1862.70L1784.06,1610.90M1552.86,1862.70L1804.66,1610.90M1573.46,1862.70L1825.26,1610.90M1594.06,1862.70L1845.86,1610.90M1614.66,1862.70L1866.46,1610.90M1635.26,1862.70L1887.06,1610.90" stroke="#000" stroke-width="4.4" fill="none"/><path d="M1290.26,1610.90L1542.06,1862.70M1310.86,1610.90L1562.66,1862.70M1331.46,1610.90L1583.26,1862.70M1352.06,1610.90L1603.86,1862.70M1372.66,1610.90L1624.46,1862.70M1393.26,1610.90L1645.06,1862.70M1413.86,1610.90L1665.66,1862.70M1434.46,1610.90L1686.26,1862.70M1455.06,1610.90L1706.86,1862.70M1475.66,1610.90L1727.46,1862.70M1496.26,1610.90L1748.06,1862.70M1516.86,1610.90L1768.66,1862.70M1537.46,1610.90L1789.26,1862.70M1558.06,1610.90L1809.86,1862.70M1578.66,1610.90L1830.46,1862.70M1599.26,1610.90L1851.06,1862.70M1619.86,1610.90L1871.66,1862.70M1640.46,1610.90L1892.26,1862.70" stroke="#000" stroke-width="4.4" fill="none"/></g><path d="M1568.00,1852.70V1622.90H1618.40V1852.70" fill="none" stroke="#000" stroke-width="4.0" stroke-linejoin="miter"/><line x1="1241.80" y1="1458.60" x2="1241.80" y2="1852.70" stroke="#000" stroke-width="4.2" stroke-linecap="butt"/><line x1="1230.40" y1="1852.70" x2="1633.00" y2="1852.70" stroke="#000" stroke-width="4.2" stroke-linecap="butt"/><line x1="1230.40" y1="1460.70" x2="1241.80" y2="1460.70" stroke="#000" stroke-width="4.2" stroke-linecap="butt"/><line x1="1230.40" y1="1526.03" x2="1241.80" y2="1526.03" stroke="#000" stroke-width="4.2" stroke-linecap="butt"/><line x1="1230.40" y1="1591.37" x2="1241.80" y2="1591.37" stroke="#000" stroke-width="4.2" stroke-linecap="butt"/><line x1="1230.40" y1="1656.70" x2="1241.80" y2="1656.70" stroke="#000" stroke-width="4.2" stroke-linecap="butt"/><line x1="1230.40" y1="1722.03" x2="1241.80" y2="1722.03" stroke="#000" stroke-width="4.2" stroke-linecap="butt"/><line x1="1230.40" y1="1787.37" x2="1241.80" y2="1787.37" stroke="#000" stroke-width="4.2" stroke-linecap="butt"/><line x1="1230.40" y1="1852.70" x2="1241.80" y2="1852.70" stroke="#000" stroke-width="4.2" stroke-linecap="butt"/><text x="1192.98" y="1471.10" font-size="33.2" font-weight="bold" textLength="35.08" lengthAdjust="spacingAndGlyphs">12</text><text x="1193.01" y="1536.43" font-size="33.2" font-weight="bold" textLength="35.08" lengthAdjust="spacingAndGlyphs">10</text><text x="1210.23" y="1601.77" font-size="33.2" font-weight="bold" textLength="17.54" lengthAdjust="spacingAndGlyphs">8</text><text x="1210.40" y="1667.10" font-size="33.2" font-weight="bold" textLength="17.54" lengthAdjust="spacingAndGlyphs">6</text><text x="1209.43" y="1732.43" font-size="33.2" font-weight="bold" textLength="17.54" lengthAdjust="spacingAndGlyphs">4</text><text x="1210.52" y="1797.77" font-size="33.2" font-weight="bold" textLength="17.54" lengthAdjust="spacingAndGlyphs">2</text><text x="1210.55" y="1863.10" font-size="33.2" font-weight="bold" textLength="17.54" lengthAdjust="spacingAndGlyphs">0</text><g transform="translate(1175.50,1723.90) rotate(-90)"><text x="-2.66" y="0" font-size="34.3" font-weight="normal" textLength="140.57" lengthAdjust="spacingAndGlyphs">HOMA-IR</text></g><text x="1356.09" y="1521.12" font-size="27.06" font-weight="normal" textLength="12.30" lengthAdjust="spacingAndGlyphs" fill="#111">*</text><text x="1511.07" y="1559.74" font-size="32.19" font-weight="normal" textLength="12.85" lengthAdjust="spacingAndGlyphs" fill="#111">*</text><g transform="translate(1290.95,1884.70) rotate(-45)"><text x="-58.74" y="0" font-size="30" font-weight="bold" textLength="60.00" lengthAdjust="spacingAndGlyphs">STD</text></g><g transform="translate(1366.80,1884.70) rotate(-45)"><text x="-38.89" y="0" font-size="30" font-weight="bold" textLength="39.99" lengthAdjust="spacingAndGlyphs">HF</text></g><g transform="translate(1446.55,1884.70) rotate(-45)"><text x="-113.98" y="0" font-size="30" font-weight="bold" textLength="115.84" lengthAdjust="spacingAndGlyphs">HF + FG</text></g><g transform="translate(1525.30,1884.70) rotate(-45)"><text x="-125.11" y="0" font-size="30" font-weight="bold" textLength="126.20" lengthAdjust="spacingAndGlyphs">HF + ω-3</text></g><g transform="translate(1599.60,1884.70) rotate(-45)"><text x="-200.96" y="0" font-size="30" font-weight="bold" textLength="202.05" lengthAdjust="spacingAndGlyphs">HF + FG + ω-3</text></g><text x="1.45" y="47.50" font-size="58.1" font-weight="normal" textLength="212.55" lengthAdjust="spacingAndGlyphs">Week 9:</text><text x="291.88" y="47.60" font-size="67.7" font-weight="normal" textLength="40.24" lengthAdjust="spacingAndGlyphs">A</text><text x="874.74" y="47.70" font-size="67.7" font-weight="normal" textLength="39.48" lengthAdjust="spacingAndGlyphs">B</text><text x="1456.53" y="48.40" font-size="67.7" font-weight="normal" textLength="39.34" lengthAdjust="spacingAndGlyphs">C</text><text x="1.44" y="732.50" font-size="58.1" font-weight="normal" textLength="245.77" lengthAdjust="spacingAndGlyphs">Week 14:</text><text x="292.71" y="732.50" font-size="67.7" font-weight="normal" textLength="43.04" lengthAdjust="spacingAndGlyphs">D</text><text x="875.65" y="732.80" font-size="67.7" font-weight="normal" textLength="32.12" lengthAdjust="spacingAndGlyphs">E</text><text x="1457.77" y="733.10" font-size="67.7" font-weight="normal" textLength="31.49" lengthAdjust="spacingAndGlyphs">F</text><text x="1.44" y="1426.70" font-size="58.1" font-weight="normal" textLength="246.89" lengthAdjust="spacingAndGlyphs">Week 23:</text><text x="291.23" y="1426.80" font-size="67.7" font-weight="normal" textLength="45.99" lengthAdjust="spacingAndGlyphs">G</text><text x="874.65" y="1427.20" font-size="67.7" font-weight="normal" textLength="43.57" lengthAdjust="spacingAndGlyphs">H</text><text x="1455.17" y="1427.20" font-size="67.7" font-weight="normal" textLength="20.56" lengthAdjust="spacingAndGlyphs">I</text></svg></body></html>
